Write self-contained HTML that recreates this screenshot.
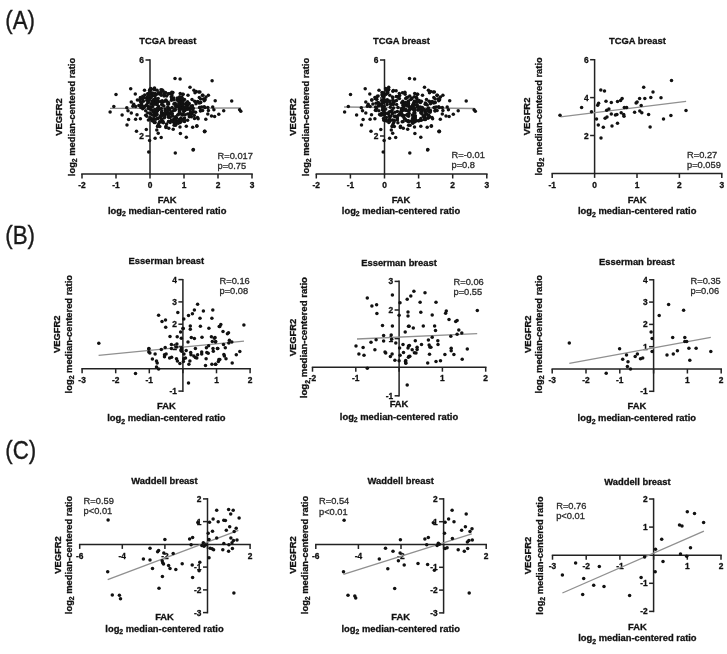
<!DOCTYPE html>
<html><head><meta charset="utf-8"><style>
html,body{margin:0;padding:0;background:#fff;}
svg{display:block;font-family:"Liberation Sans",sans-serif;filter:blur(0.35px);}
</style></head><body>
<svg width="727" height="654" viewBox="0 0 727 654">
<rect width="727" height="654" fill="#fff"/>
<g fill="#111">
<line x1="81.2" y1="174.0" x2="252.8" y2="174.0" stroke="#222" stroke-width="1.5"/>
<line x1="82.0" y1="174.0" x2="82.0" y2="178.5" stroke="#222" stroke-width="1.5"/>
<text x="82.0" y="188.2" font-size="8.4" text-anchor="middle" font-weight="bold" fill="#111" stroke="#111" stroke-width="0.3" >-2</text>
<line x1="116.0" y1="174.0" x2="116.0" y2="178.5" stroke="#222" stroke-width="1.5"/>
<text x="116.0" y="188.2" font-size="8.4" text-anchor="middle" font-weight="bold" fill="#111" stroke="#111" stroke-width="0.3" >-1</text>
<line x1="150.0" y1="174.0" x2="150.0" y2="178.5" stroke="#222" stroke-width="1.5"/>
<text x="150.0" y="188.2" font-size="8.4" text-anchor="middle" font-weight="bold" fill="#111" stroke="#111" stroke-width="0.3" >0</text>
<line x1="184.0" y1="174.0" x2="184.0" y2="178.5" stroke="#222" stroke-width="1.5"/>
<text x="184.0" y="188.2" font-size="8.4" text-anchor="middle" font-weight="bold" fill="#111" stroke="#111" stroke-width="0.3" >1</text>
<line x1="218.0" y1="174.0" x2="218.0" y2="178.5" stroke="#222" stroke-width="1.5"/>
<text x="218.0" y="188.2" font-size="8.4" text-anchor="middle" font-weight="bold" fill="#111" stroke="#111" stroke-width="0.3" >2</text>
<line x1="252.0" y1="174.0" x2="252.0" y2="178.5" stroke="#222" stroke-width="1.5"/>
<text x="252.0" y="188.2" font-size="8.4" text-anchor="middle" font-weight="bold" fill="#111" stroke="#111" stroke-width="0.3" >3</text>
<line x1="150.0" y1="174.8" x2="150.0" y2="59.2" stroke="#222" stroke-width="1.5"/>
<line x1="145.5" y1="136.0" x2="150.0" y2="136.0" stroke="#222" stroke-width="1.5"/>
<text x="144.0" y="139.0" font-size="8.4" text-anchor="end" font-weight="bold" fill="#111" stroke="#111" stroke-width="0.3" >2</text>
<line x1="145.5" y1="98.0" x2="150.0" y2="98.0" stroke="#222" stroke-width="1.5"/>
<text x="144.0" y="101.0" font-size="8.4" text-anchor="end" font-weight="bold" fill="#111" stroke="#111" stroke-width="0.3" >4</text>
<line x1="145.5" y1="60.0" x2="150.0" y2="60.0" stroke="#222" stroke-width="1.5"/>
<text x="144.0" y="63.0" font-size="8.4" text-anchor="end" font-weight="bold" fill="#111" stroke="#111" stroke-width="0.3" >6</text>
<line x1="110.0" y1="108.3" x2="241.0" y2="108.0" stroke="#909090" stroke-width="1.35"/>
<text x="167.8" y="44.0" font-size="9.4" text-anchor="middle" font-weight="bold" fill="#111" stroke="#111" stroke-width="0.3" >TCGA breast</text>
<text x="0" y="0" font-size="9.4" text-anchor="middle" font-weight="bold" fill="#111" stroke="#111" stroke-width="0.3" transform="translate(62.2,117.0) rotate(-90)">VEGFR2</text>
<text x="0" y="0" font-size="9.4" text-anchor="middle" font-weight="bold" fill="#111" stroke="#111" stroke-width="0.3" transform="translate(74.6,117.0) rotate(-90)">log<tspan font-size="6.8" dy="2.1">2</tspan><tspan dy="-2.1"> median-centered ratio</tspan></text>
<text x="167.2" y="202.9" font-size="9.4" text-anchor="middle" font-weight="bold" fill="#111" stroke="#111" stroke-width="0.3" >FAK</text>
<text x="167.2" y="213.6" font-size="9.4" text-anchor="middle" font-weight="bold" fill="#111" stroke="#111" stroke-width="0.3" >log<tspan font-size="6.8" dy="2.1">2</tspan><tspan dy="-2.1"> median-centered ratio</tspan></text>
<text x="217.5" y="159.0" font-size="9.3" text-anchor="start" font-weight="normal" fill="#2b2b2b" stroke="#2b2b2b" stroke-width="0.3" >R=0.017</text>
<text x="217.5" y="169.1" font-size="9.3" text-anchor="start" font-weight="normal" fill="#2b2b2b" stroke="#2b2b2b" stroke-width="0.3" >p=0.75</text>
<circle cx="130.7" cy="88.8" r="1.75"/>
<circle cx="144.5" cy="90.3" r="1.75"/>
<circle cx="116.0" cy="94.6" r="1.75"/>
<circle cx="135.3" cy="93.9" r="1.75"/>
<circle cx="137.4" cy="100.0" r="1.75"/>
<circle cx="140.4" cy="97.6" r="1.75"/>
<circle cx="131.3" cy="101.9" r="1.75"/>
<circle cx="113.8" cy="106.5" r="1.75"/>
<circle cx="110.1" cy="111.9" r="1.75"/>
<circle cx="126.8" cy="107.8" r="1.75"/>
<circle cx="128.0" cy="110.7" r="1.75"/>
<circle cx="131.3" cy="113.1" r="1.75"/>
<circle cx="122.1" cy="115.1" r="1.75"/>
<circle cx="137.0" cy="114.7" r="1.75"/>
<circle cx="128.6" cy="119.6" r="1.75"/>
<circle cx="135.6" cy="119.2" r="1.75"/>
<circle cx="140.4" cy="118.7" r="1.75"/>
<circle cx="127.0" cy="125.1" r="1.75"/>
<circle cx="136.5" cy="131.2" r="1.75"/>
<circle cx="146.3" cy="129.6" r="1.75"/>
<circle cx="158.2" cy="133.3" r="1.75"/>
<circle cx="155.1" cy="138.3" r="1.75"/>
<circle cx="161.2" cy="137.6" r="1.75"/>
<circle cx="149.6" cy="140.4" r="1.75"/>
<circle cx="148.7" cy="152.0" r="1.75"/>
<circle cx="132.9" cy="106.2" r="1.75"/>
<circle cx="135.6" cy="106.5" r="1.75"/>
<circle cx="133.7" cy="104.3" r="1.75"/>
<circle cx="175.0" cy="78.4" r="1.75"/>
<circle cx="180.1" cy="78.9" r="1.75"/>
<circle cx="190.0" cy="87.2" r="1.75"/>
<circle cx="193.9" cy="90.3" r="1.75"/>
<circle cx="198.8" cy="92.1" r="1.75"/>
<circle cx="202.4" cy="95.2" r="1.75"/>
<circle cx="200.6" cy="102.5" r="1.75"/>
<circle cx="204.9" cy="107.4" r="1.75"/>
<circle cx="200.6" cy="110.4" r="1.75"/>
<circle cx="180.4" cy="133.4" r="1.75"/>
<circle cx="186.3" cy="137.3" r="1.75"/>
<circle cx="174.1" cy="125.3" r="1.75"/>
<circle cx="186.3" cy="126.3" r="1.75"/>
<circle cx="192.7" cy="127.3" r="1.75"/>
<circle cx="196.9" cy="125.7" r="1.75"/>
<circle cx="193.3" cy="149.5" r="1.75"/>
<circle cx="175.3" cy="153.0" r="1.75"/>
<circle cx="204.9" cy="131.2" r="1.75"/>
<circle cx="212.1" cy="80.7" r="1.75"/>
<circle cx="196.2" cy="91.5" r="1.75"/>
<circle cx="199.9" cy="92.1" r="1.75"/>
<circle cx="202.9" cy="95.2" r="1.75"/>
<circle cx="208.4" cy="95.2" r="1.75"/>
<circle cx="206.0" cy="97.0" r="1.75"/>
<circle cx="199.3" cy="97.6" r="1.75"/>
<circle cx="204.2" cy="100.7" r="1.75"/>
<circle cx="200.5" cy="102.5" r="1.75"/>
<circle cx="215.2" cy="100.7" r="1.75"/>
<circle cx="231.7" cy="100.9" r="1.75"/>
<circle cx="199.9" cy="107.4" r="1.75"/>
<circle cx="204.2" cy="106.8" r="1.75"/>
<circle cx="207.8" cy="107.4" r="1.75"/>
<circle cx="212.7" cy="107.0" r="1.75"/>
<circle cx="200.5" cy="111.0" r="1.75"/>
<circle cx="208.4" cy="110.4" r="1.75"/>
<circle cx="213.9" cy="109.8" r="1.75"/>
<circle cx="195.6" cy="112.3" r="1.75"/>
<circle cx="207.8" cy="113.9" r="1.75"/>
<circle cx="211.5" cy="116.0" r="1.75"/>
<circle cx="214.6" cy="116.5" r="1.75"/>
<circle cx="218.8" cy="114.3" r="1.75"/>
<circle cx="223.7" cy="110.7" r="1.75"/>
<circle cx="239.6" cy="109.8" r="1.75"/>
<circle cx="240.8" cy="111.3" r="1.75"/>
<circle cx="205.8" cy="119.2" r="1.75"/>
<circle cx="196.8" cy="126.3" r="1.75"/>
<circle cx="204.5" cy="131.2" r="1.75"/>
<circle cx="204.6" cy="131.7" r="1.75"/>
<circle cx="193.1" cy="150.1" r="1.75"/>
<circle cx="150.7" cy="107.0" r="1.75"/>
<circle cx="158.6" cy="109.3" r="1.75"/>
<circle cx="152.0" cy="95.5" r="1.75"/>
<circle cx="186.3" cy="104.5" r="1.75"/>
<circle cx="174.3" cy="119.1" r="1.75"/>
<circle cx="167.7" cy="114.4" r="1.75"/>
<circle cx="181.6" cy="108.8" r="1.75"/>
<circle cx="154.5" cy="88.0" r="1.75"/>
<circle cx="188.0" cy="104.4" r="1.75"/>
<circle cx="179.3" cy="119.5" r="1.75"/>
<circle cx="179.0" cy="121.1" r="1.75"/>
<circle cx="160.1" cy="116.6" r="1.75"/>
<circle cx="163.0" cy="121.6" r="1.75"/>
<circle cx="144.7" cy="94.9" r="1.75"/>
<circle cx="173.8" cy="98.0" r="1.75"/>
<circle cx="166.7" cy="101.2" r="1.75"/>
<circle cx="157.4" cy="108.6" r="1.75"/>
<circle cx="171.3" cy="120.4" r="1.75"/>
<circle cx="177.1" cy="121.4" r="1.75"/>
<circle cx="190.3" cy="108.0" r="1.75"/>
<circle cx="186.0" cy="108.1" r="1.75"/>
<circle cx="153.5" cy="89.2" r="1.75"/>
<circle cx="161.0" cy="92.4" r="1.75"/>
<circle cx="154.1" cy="115.4" r="1.75"/>
<circle cx="179.3" cy="99.1" r="1.75"/>
<circle cx="166.6" cy="123.9" r="1.75"/>
<circle cx="155.0" cy="89.7" r="1.75"/>
<circle cx="148.3" cy="102.0" r="1.75"/>
<circle cx="172.9" cy="92.6" r="1.75"/>
<circle cx="155.2" cy="122.5" r="1.75"/>
<circle cx="163.9" cy="106.1" r="1.75"/>
<circle cx="174.8" cy="109.0" r="1.75"/>
<circle cx="169.8" cy="109.9" r="1.75"/>
<circle cx="192.5" cy="105.7" r="1.75"/>
<circle cx="162.2" cy="113.6" r="1.75"/>
<circle cx="150.7" cy="98.0" r="1.75"/>
<circle cx="161.3" cy="108.4" r="1.75"/>
<circle cx="173.9" cy="104.1" r="1.75"/>
<circle cx="176.9" cy="99.9" r="1.75"/>
<circle cx="178.6" cy="114.3" r="1.75"/>
<circle cx="176.8" cy="122.6" r="1.75"/>
<circle cx="151.5" cy="103.8" r="1.75"/>
<circle cx="171.8" cy="98.7" r="1.75"/>
<circle cx="158.2" cy="98.4" r="1.75"/>
<circle cx="158.5" cy="109.0" r="1.75"/>
<circle cx="154.4" cy="100.8" r="1.75"/>
<circle cx="170.4" cy="114.1" r="1.75"/>
<circle cx="155.0" cy="95.1" r="1.75"/>
<circle cx="147.7" cy="103.0" r="1.75"/>
<circle cx="155.7" cy="99.2" r="1.75"/>
<circle cx="186.1" cy="103.1" r="1.75"/>
<circle cx="156.6" cy="111.0" r="1.75"/>
<circle cx="189.2" cy="103.6" r="1.75"/>
<circle cx="150.0" cy="91.3" r="1.75"/>
<circle cx="168.1" cy="93.9" r="1.75"/>
<circle cx="184.5" cy="118.0" r="1.75"/>
<circle cx="147.5" cy="97.2" r="1.75"/>
<circle cx="184.5" cy="110.7" r="1.75"/>
<circle cx="184.5" cy="99.6" r="1.75"/>
<circle cx="144.3" cy="97.7" r="1.75"/>
<circle cx="157.2" cy="102.3" r="1.75"/>
<circle cx="161.5" cy="102.0" r="1.75"/>
<circle cx="162.4" cy="122.1" r="1.75"/>
<circle cx="180.9" cy="117.9" r="1.75"/>
<circle cx="176.0" cy="106.1" r="1.75"/>
<circle cx="153.8" cy="99.5" r="1.75"/>
<circle cx="150.1" cy="89.3" r="1.75"/>
<circle cx="171.6" cy="97.5" r="1.75"/>
<circle cx="190.3" cy="112.6" r="1.75"/>
<circle cx="190.0" cy="108.3" r="1.75"/>
<circle cx="146.8" cy="98.0" r="1.75"/>
<circle cx="176.0" cy="106.3" r="1.75"/>
<circle cx="161.2" cy="121.7" r="1.75"/>
<circle cx="173.0" cy="99.5" r="1.75"/>
<circle cx="151.6" cy="118.9" r="1.75"/>
<circle cx="164.9" cy="115.9" r="1.75"/>
<circle cx="157.5" cy="94.1" r="1.75"/>
<circle cx="168.4" cy="117.2" r="1.75"/>
<circle cx="146.8" cy="116.3" r="1.75"/>
<circle cx="191.4" cy="116.8" r="1.75"/>
<circle cx="173.9" cy="118.9" r="1.75"/>
<circle cx="152.6" cy="106.4" r="1.75"/>
<circle cx="161.7" cy="104.4" r="1.75"/>
<circle cx="194.5" cy="118.6" r="1.75"/>
<circle cx="141.7" cy="105.5" r="1.75"/>
<circle cx="155.4" cy="98.5" r="1.75"/>
<circle cx="157.5" cy="110.9" r="1.75"/>
<circle cx="171.4" cy="100.2" r="1.75"/>
<circle cx="148.0" cy="99.0" r="1.75"/>
<circle cx="144.0" cy="107.5" r="1.75"/>
<circle cx="179.1" cy="100.9" r="1.75"/>
<circle cx="158.8" cy="109.3" r="1.75"/>
<circle cx="183.1" cy="100.9" r="1.75"/>
<circle cx="184.2" cy="110.0" r="1.75"/>
<circle cx="162.2" cy="100.7" r="1.75"/>
<circle cx="166.1" cy="112.9" r="1.75"/>
<circle cx="161.6" cy="112.6" r="1.75"/>
<circle cx="164.0" cy="95.9" r="1.75"/>
<circle cx="168.4" cy="112.7" r="1.75"/>
<circle cx="140.9" cy="102.6" r="1.75"/>
<circle cx="161.9" cy="119.5" r="1.75"/>
<circle cx="189.9" cy="116.2" r="1.75"/>
<circle cx="152.2" cy="104.1" r="1.75"/>
<circle cx="175.9" cy="119.8" r="1.75"/>
<circle cx="183.7" cy="111.6" r="1.75"/>
<circle cx="180.2" cy="107.8" r="1.75"/>
<circle cx="142.7" cy="108.7" r="1.75"/>
<circle cx="176.6" cy="117.9" r="1.75"/>
<circle cx="193.2" cy="108.3" r="1.75"/>
<circle cx="182.2" cy="105.8" r="1.75"/>
<circle cx="181.1" cy="121.6" r="1.75"/>
<circle cx="140.2" cy="98.9" r="1.75"/>
<circle cx="170.1" cy="117.6" r="1.75"/>
<circle cx="151.0" cy="93.5" r="1.75"/>
<circle cx="151.4" cy="109.7" r="1.75"/>
<circle cx="181.4" cy="101.4" r="1.75"/>
<circle cx="158.4" cy="101.6" r="1.75"/>
<circle cx="157.4" cy="102.4" r="1.75"/>
<circle cx="141.5" cy="105.4" r="1.75"/>
<circle cx="177.6" cy="114.9" r="1.75"/>
<circle cx="176.6" cy="106.0" r="1.75"/>
<circle cx="165.3" cy="110.7" r="1.75"/>
<circle cx="191.0" cy="106.0" r="1.75"/>
<circle cx="162.9" cy="113.5" r="1.75"/>
<circle cx="147.7" cy="96.7" r="1.75"/>
<circle cx="148.4" cy="108.6" r="1.75"/>
<circle cx="155.3" cy="95.4" r="1.75"/>
<circle cx="177.7" cy="122.3" r="1.75"/>
<circle cx="154.2" cy="113.0" r="1.75"/>
<circle cx="161.1" cy="118.6" r="1.75"/>
<circle cx="171.3" cy="96.7" r="1.75"/>
<circle cx="165.1" cy="101.0" r="1.75"/>
<circle cx="146.8" cy="100.2" r="1.75"/>
<circle cx="155.7" cy="115.6" r="1.75"/>
<circle cx="165.1" cy="109.1" r="1.75"/>
<circle cx="164.4" cy="117.8" r="1.75"/>
<circle cx="185.4" cy="107.5" r="1.75"/>
<circle cx="165.2" cy="113.6" r="1.75"/>
<circle cx="187.5" cy="101.7" r="1.75"/>
<circle cx="180.2" cy="122.5" r="1.75"/>
<circle cx="164.4" cy="95.3" r="1.75"/>
<circle cx="150.5" cy="113.5" r="1.75"/>
<circle cx="176.7" cy="122.5" r="1.75"/>
<circle cx="147.9" cy="96.4" r="1.75"/>
<circle cx="147.7" cy="113.0" r="1.75"/>
<circle cx="187.6" cy="120.3" r="1.75"/>
<circle cx="151.7" cy="119.0" r="1.75"/>
<circle cx="155.2" cy="102.5" r="1.75"/>
<circle cx="153.9" cy="100.1" r="1.75"/>
<circle cx="171.1" cy="111.9" r="1.75"/>
<circle cx="162.5" cy="104.9" r="1.75"/>
<circle cx="149.1" cy="108.6" r="1.75"/>
<circle cx="152.9" cy="111.6" r="1.75"/>
<circle cx="182.5" cy="115.0" r="1.75"/>
<circle cx="154.2" cy="111.9" r="1.75"/>
<circle cx="175.5" cy="116.8" r="1.75"/>
<circle cx="152.4" cy="114.9" r="1.75"/>
<circle cx="193.7" cy="111.8" r="1.75"/>
<circle cx="165.9" cy="99.9" r="1.75"/>
<circle cx="179.3" cy="112.0" r="1.75"/>
<circle cx="170.2" cy="93.6" r="1.75"/>
<circle cx="175.0" cy="110.3" r="1.75"/>
<circle cx="156.3" cy="113.6" r="1.75"/>
<circle cx="172.1" cy="107.4" r="1.75"/>
<circle cx="175.1" cy="103.8" r="1.75"/>
<circle cx="155.2" cy="93.4" r="1.75"/>
<circle cx="181.4" cy="107.0" r="1.75"/>
<circle cx="180.5" cy="100.2" r="1.75"/>
<circle cx="152.4" cy="101.1" r="1.75"/>
<circle cx="166.6" cy="96.0" r="1.75"/>
<circle cx="182.3" cy="100.0" r="1.75"/>
<circle cx="156.4" cy="101.8" r="1.75"/>
<circle cx="168.8" cy="115.5" r="1.75"/>
<circle cx="157.6" cy="118.3" r="1.75"/>
<circle cx="143.3" cy="96.9" r="1.75"/>
<circle cx="182.9" cy="113.9" r="1.75"/>
<circle cx="147.6" cy="93.8" r="1.75"/>
<circle cx="161.3" cy="114.5" r="1.75"/>
<circle cx="185.1" cy="114.7" r="1.75"/>
<circle cx="171.8" cy="92.2" r="1.75"/>
<circle cx="160.3" cy="94.0" r="1.75"/>
<circle cx="167.9" cy="107.9" r="1.75"/>
<circle cx="148.6" cy="96.1" r="1.75"/>
<circle cx="184.3" cy="120.0" r="1.75"/>
<circle cx="169.4" cy="108.5" r="1.75"/>
<circle cx="174.2" cy="123.1" r="1.75"/>
<circle cx="177.4" cy="97.9" r="1.75"/>
<circle cx="187.7" cy="104.8" r="1.75"/>
<circle cx="172.3" cy="113.8" r="1.75"/>
<circle cx="175.9" cy="105.1" r="1.75"/>
<circle cx="167.7" cy="103.9" r="1.75"/>
<circle cx="148.1" cy="106.5" r="1.75"/>
<circle cx="138.8" cy="105.4" r="1.75"/>
<circle cx="175.0" cy="103.3" r="1.75"/>
<circle cx="170.2" cy="122.5" r="1.75"/>
<circle cx="183.7" cy="110.0" r="1.75"/>
<circle cx="139.6" cy="100.2" r="1.75"/>
<circle cx="150.5" cy="89.7" r="1.75"/>
<circle cx="168.6" cy="121.4" r="1.75"/>
<circle cx="155.8" cy="119.2" r="1.75"/>
<circle cx="187.6" cy="109.2" r="1.75"/>
<circle cx="191.7" cy="113.4" r="1.75"/>
<circle cx="180.5" cy="99.6" r="1.75"/>
<circle cx="184.5" cy="121.5" r="1.75"/>
<circle cx="187.8" cy="103.1" r="1.75"/>
<circle cx="181.6" cy="104.8" r="1.75"/>
<circle cx="146.2" cy="105.3" r="1.75"/>
<circle cx="178.1" cy="106.8" r="1.75"/>
<circle cx="161.7" cy="111.0" r="1.75"/>
<circle cx="154.7" cy="104.1" r="1.75"/>
<circle cx="181.6" cy="101.7" r="1.75"/>
<circle cx="179.3" cy="100.4" r="1.75"/>
<circle cx="158.6" cy="106.5" r="1.75"/>
<circle cx="172.0" cy="95.1" r="1.75"/>
<circle cx="163.9" cy="94.1" r="1.75"/>
<circle cx="149.0" cy="93.2" r="1.75"/>
<circle cx="160.6" cy="93.1" r="1.75"/>
<circle cx="146.6" cy="105.0" r="1.75"/>
<circle cx="163.2" cy="102.0" r="1.75"/>
<circle cx="160.6" cy="101.6" r="1.75"/>
<circle cx="149.6" cy="90.3" r="1.75"/>
<circle cx="164.8" cy="92.9" r="1.75"/>
<circle cx="173.6" cy="99.7" r="1.75"/>
<circle cx="183.4" cy="104.1" r="1.75"/>
<circle cx="151.4" cy="96.7" r="1.75"/>
<circle cx="185.0" cy="110.2" r="1.75"/>
<circle cx="157.1" cy="90.3" r="1.75"/>
<circle cx="177.1" cy="122.9" r="1.75"/>
<circle cx="184.3" cy="120.9" r="1.75"/>
<circle cx="154.7" cy="109.4" r="1.75"/>
<circle cx="154.0" cy="118.4" r="1.75"/>
<circle cx="143.4" cy="101.3" r="1.75"/>
<circle cx="156.5" cy="112.1" r="1.75"/>
<circle cx="180.5" cy="114.1" r="1.75"/>
<circle cx="186.2" cy="107.4" r="1.75"/>
<circle cx="161.2" cy="95.3" r="1.75"/>
<circle cx="182.9" cy="104.7" r="1.75"/>
<circle cx="152.6" cy="93.1" r="1.75"/>
<circle cx="179.4" cy="109.3" r="1.75"/>
<circle cx="178.8" cy="101.2" r="1.75"/>
<circle cx="165.5" cy="92.5" r="1.75"/>
<circle cx="164.3" cy="115.0" r="1.75"/>
<circle cx="150.7" cy="118.2" r="1.75"/>
<circle cx="174.8" cy="119.5" r="1.75"/>
<circle cx="188.4" cy="103.5" r="1.75"/>
<circle cx="189.9" cy="114.1" r="1.75"/>
<circle cx="156.4" cy="100.6" r="1.75"/>
<circle cx="140.9" cy="101.7" r="1.75"/>
<circle cx="150.9" cy="88.6" r="1.75"/>
<circle cx="145.7" cy="110.8" r="1.75"/>
<circle cx="149.7" cy="107.7" r="1.75"/>
<circle cx="161.5" cy="115.9" r="1.75"/>
<circle cx="172.5" cy="116.1" r="1.75"/>
<circle cx="168.4" cy="93.8" r="1.75"/>
<circle cx="148.4" cy="120.0" r="1.75"/>
<circle cx="141.7" cy="104.1" r="1.75"/>
<circle cx="149.8" cy="117.7" r="1.75"/>
<circle cx="173.2" cy="110.7" r="1.75"/>
<circle cx="181.8" cy="119.2" r="1.75"/>
<circle cx="157.2" cy="109.2" r="1.75"/>
<circle cx="163.1" cy="90.9" r="1.75"/>
<circle cx="186.2" cy="108.9" r="1.75"/>
<circle cx="168.6" cy="104.1" r="1.75"/>
<circle cx="157.2" cy="104.8" r="1.75"/>
<circle cx="140.8" cy="107.4" r="1.75"/>
<circle cx="180.3" cy="102.5" r="1.75"/>
<circle cx="175.1" cy="109.3" r="1.75"/>
<circle cx="149.3" cy="99.8" r="1.75"/>
<circle cx="162.2" cy="89.9" r="1.75"/>
<circle cx="149.5" cy="92.9" r="1.75"/>
<circle cx="191.9" cy="113.8" r="1.75"/>
<circle cx="173.0" cy="121.4" r="1.75"/>
<circle cx="168.4" cy="102.4" r="1.75"/>
<circle cx="182.5" cy="101.9" r="1.75"/>
<circle cx="153.9" cy="121.6" r="1.75"/>
<circle cx="179.5" cy="97.7" r="1.75"/>
<circle cx="167.5" cy="110.6" r="1.75"/>
<circle cx="153.0" cy="102.9" r="1.75"/>
<circle cx="157.1" cy="114.4" r="1.75"/>
<circle cx="142.7" cy="97.9" r="1.75"/>
<circle cx="161.0" cy="89.7" r="1.75"/>
<circle cx="145.7" cy="115.2" r="1.75"/>
<circle cx="158.7" cy="92.8" r="1.75"/>
<circle cx="155.1" cy="104.0" r="1.75"/>
<circle cx="167.8" cy="107.0" r="1.75"/>
<circle cx="158.0" cy="118.5" r="1.75"/>
<circle cx="153.5" cy="104.0" r="1.75"/>
<circle cx="189.3" cy="116.8" r="1.75"/>
<circle cx="154.3" cy="95.8" r="1.75"/>
<circle cx="144.4" cy="106.5" r="1.75"/>
<circle cx="168.8" cy="128.2" r="1.75"/>
<circle cx="180.0" cy="127.1" r="1.75"/>
<circle cx="178.5" cy="121.2" r="1.75"/>
<circle cx="163.4" cy="122.7" r="1.75"/>
<circle cx="166.0" cy="126.3" r="1.75"/>
<circle cx="156.8" cy="130.1" r="1.75"/>
<circle cx="173.8" cy="121.8" r="1.75"/>
<circle cx="174.9" cy="121.5" r="1.75"/>
<circle cx="168.6" cy="121.4" r="1.75"/>
<circle cx="154.3" cy="122.4" r="1.75"/>
<circle cx="165.9" cy="127.5" r="1.75"/>
<circle cx="178.3" cy="123.3" r="1.75"/>
<circle cx="159.6" cy="121.8" r="1.75"/>
<circle cx="152.1" cy="120.7" r="1.75"/>
<circle cx="157.5" cy="126.6" r="1.75"/>
<circle cx="158.8" cy="123.4" r="1.75"/>
<circle cx="175.6" cy="125.3" r="1.75"/>
<circle cx="158.1" cy="125.3" r="1.75"/>
<circle cx="171.7" cy="120.6" r="1.75"/>
<circle cx="181.1" cy="120.3" r="1.75"/>
<circle cx="173.2" cy="129.3" r="1.75"/>
<circle cx="159.8" cy="126.4" r="1.75"/>
<circle cx="188.0" cy="95.2" r="1.75"/>
<circle cx="194.6" cy="101.2" r="1.75"/>
<circle cx="179.8" cy="105.2" r="1.75"/>
<circle cx="179.2" cy="103.1" r="1.75"/>
<circle cx="180.2" cy="93.5" r="1.75"/>
<circle cx="191.2" cy="114.2" r="1.75"/>
<circle cx="181.8" cy="97.3" r="1.75"/>
<circle cx="197.5" cy="117.5" r="1.75"/>
<circle cx="195.9" cy="102.1" r="1.75"/>
<circle cx="204.6" cy="99.1" r="1.75"/>
<circle cx="182.5" cy="94.3" r="1.75"/>
<circle cx="187.6" cy="113.9" r="1.75"/>
<circle cx="183.6" cy="107.3" r="1.75"/>
<circle cx="197.8" cy="101.4" r="1.75"/>
<circle cx="195.0" cy="92.8" r="1.75"/>
<circle cx="179.8" cy="96.8" r="1.75"/>
<circle cx="199.1" cy="103.0" r="1.75"/>
<circle cx="187.7" cy="107.4" r="1.75"/>
<circle cx="192.0" cy="99.4" r="1.75"/>
<circle cx="202.6" cy="110.6" r="1.75"/>
<circle cx="185.6" cy="107.1" r="1.75"/>
<circle cx="194.3" cy="115.5" r="1.75"/>
<circle cx="200.6" cy="99.1" r="1.75"/>
<circle cx="191.0" cy="112.2" r="1.75"/>
<circle cx="182.7" cy="104.7" r="1.75"/>
<circle cx="179.2" cy="109.7" r="1.75"/>
<circle cx="201.7" cy="107.0" r="1.75"/>
<circle cx="205.1" cy="99.8" r="1.75"/>
<circle cx="199.6" cy="107.6" r="1.75"/>
<circle cx="196.0" cy="103.8" r="1.75"/>
<circle cx="192.7" cy="109.6" r="1.75"/>
<circle cx="179.9" cy="110.6" r="1.75"/>
<circle cx="198.1" cy="118.8" r="1.75"/>
<circle cx="203.5" cy="99.0" r="1.75"/>
<circle cx="190.0" cy="109.7" r="1.75"/>
<circle cx="178.7" cy="103.9" r="1.75"/>
<circle cx="183.2" cy="94.3" r="1.75"/>
<circle cx="179.8" cy="112.5" r="1.75"/>
<circle cx="182.0" cy="97.9" r="1.75"/>
<circle cx="190.1" cy="115.4" r="1.75"/>
<line x1="315.6" y1="174.0" x2="487.6" y2="174.0" stroke="#222" stroke-width="1.5"/>
<line x1="316.3" y1="174.0" x2="316.3" y2="178.5" stroke="#222" stroke-width="1.5"/>
<text x="316.3" y="188.2" font-size="8.4" text-anchor="middle" font-weight="bold" fill="#111" stroke="#111" stroke-width="0.3" >-2</text>
<line x1="350.4" y1="174.0" x2="350.4" y2="178.5" stroke="#222" stroke-width="1.5"/>
<text x="350.4" y="188.2" font-size="8.4" text-anchor="middle" font-weight="bold" fill="#111" stroke="#111" stroke-width="0.3" >-1</text>
<line x1="384.5" y1="174.0" x2="384.5" y2="178.5" stroke="#222" stroke-width="1.5"/>
<text x="384.5" y="188.2" font-size="8.4" text-anchor="middle" font-weight="bold" fill="#111" stroke="#111" stroke-width="0.3" >0</text>
<line x1="418.6" y1="174.0" x2="418.6" y2="178.5" stroke="#222" stroke-width="1.5"/>
<text x="418.6" y="188.2" font-size="8.4" text-anchor="middle" font-weight="bold" fill="#111" stroke="#111" stroke-width="0.3" >1</text>
<line x1="452.7" y1="174.0" x2="452.7" y2="178.5" stroke="#222" stroke-width="1.5"/>
<text x="452.7" y="188.2" font-size="8.4" text-anchor="middle" font-weight="bold" fill="#111" stroke="#111" stroke-width="0.3" >2</text>
<line x1="486.8" y1="174.0" x2="486.8" y2="178.5" stroke="#222" stroke-width="1.5"/>
<text x="486.8" y="188.2" font-size="8.4" text-anchor="middle" font-weight="bold" fill="#111" stroke="#111" stroke-width="0.3" >3</text>
<line x1="384.5" y1="174.8" x2="384.5" y2="59.2" stroke="#222" stroke-width="1.5"/>
<line x1="380.0" y1="136.0" x2="384.5" y2="136.0" stroke="#222" stroke-width="1.5"/>
<text x="378.5" y="139.0" font-size="8.4" text-anchor="end" font-weight="bold" fill="#111" stroke="#111" stroke-width="0.3" >2</text>
<line x1="380.0" y1="98.0" x2="384.5" y2="98.0" stroke="#222" stroke-width="1.5"/>
<text x="378.5" y="101.0" font-size="8.4" text-anchor="end" font-weight="bold" fill="#111" stroke="#111" stroke-width="0.3" >4</text>
<line x1="380.0" y1="60.0" x2="384.5" y2="60.0" stroke="#222" stroke-width="1.5"/>
<text x="378.5" y="63.0" font-size="8.4" text-anchor="end" font-weight="bold" fill="#111" stroke="#111" stroke-width="0.3" >6</text>
<line x1="344.0" y1="107.0" x2="474.5" y2="108.5" stroke="#909090" stroke-width="1.35"/>
<text x="401.4" y="44.2" font-size="9.4" text-anchor="middle" font-weight="bold" fill="#111" stroke="#111" stroke-width="0.3" >TCGA breast</text>
<text x="0" y="0" font-size="9.4" text-anchor="middle" font-weight="bold" fill="#111" stroke="#111" stroke-width="0.3" transform="translate(296.2,117.0) rotate(-90)">VEGFR2</text>
<text x="0" y="0" font-size="9.4" text-anchor="middle" font-weight="bold" fill="#111" stroke="#111" stroke-width="0.3" transform="translate(308.7,117.0) rotate(-90)">log<tspan font-size="6.8" dy="2.1">2</tspan><tspan dy="-2.1"> median-centered ratio</tspan></text>
<text x="401.0" y="203.1" font-size="9.4" text-anchor="middle" font-weight="bold" fill="#111" stroke="#111" stroke-width="0.3" >FAK</text>
<text x="401.0" y="213.6" font-size="9.4" text-anchor="middle" font-weight="bold" fill="#111" stroke="#111" stroke-width="0.3" >log<tspan font-size="6.8" dy="2.1">2</tspan><tspan dy="-2.1"> median-centered ratio</tspan></text>
<text x="451.5" y="157.9" font-size="9.3" text-anchor="start" font-weight="normal" fill="#2b2b2b" stroke="#2b2b2b" stroke-width="0.3" >R=-0.01</text>
<text x="451.5" y="167.9" font-size="9.3" text-anchor="start" font-weight="normal" fill="#2b2b2b" stroke="#2b2b2b" stroke-width="0.3" >p=0.8</text>
<circle cx="365.2" cy="88.8" r="1.75"/>
<circle cx="379.0" cy="90.3" r="1.75"/>
<circle cx="350.5" cy="94.6" r="1.75"/>
<circle cx="369.8" cy="93.9" r="1.75"/>
<circle cx="371.9" cy="100.0" r="1.75"/>
<circle cx="374.9" cy="97.6" r="1.75"/>
<circle cx="365.8" cy="101.9" r="1.75"/>
<circle cx="348.3" cy="106.5" r="1.75"/>
<circle cx="344.6" cy="111.9" r="1.75"/>
<circle cx="361.3" cy="107.8" r="1.75"/>
<circle cx="362.5" cy="110.7" r="1.75"/>
<circle cx="365.8" cy="113.1" r="1.75"/>
<circle cx="356.6" cy="115.1" r="1.75"/>
<circle cx="371.5" cy="114.7" r="1.75"/>
<circle cx="363.1" cy="119.6" r="1.75"/>
<circle cx="370.1" cy="119.2" r="1.75"/>
<circle cx="374.9" cy="118.7" r="1.75"/>
<circle cx="361.5" cy="125.1" r="1.75"/>
<circle cx="371.0" cy="131.2" r="1.75"/>
<circle cx="380.8" cy="129.6" r="1.75"/>
<circle cx="392.7" cy="133.3" r="1.75"/>
<circle cx="389.6" cy="138.3" r="1.75"/>
<circle cx="395.7" cy="137.6" r="1.75"/>
<circle cx="384.1" cy="140.4" r="1.75"/>
<circle cx="383.2" cy="152.0" r="1.75"/>
<circle cx="367.4" cy="106.2" r="1.75"/>
<circle cx="370.1" cy="106.5" r="1.75"/>
<circle cx="368.2" cy="104.3" r="1.75"/>
<circle cx="409.5" cy="78.4" r="1.75"/>
<circle cx="414.6" cy="78.9" r="1.75"/>
<circle cx="424.5" cy="87.2" r="1.75"/>
<circle cx="428.4" cy="90.3" r="1.75"/>
<circle cx="433.3" cy="92.1" r="1.75"/>
<circle cx="436.9" cy="95.2" r="1.75"/>
<circle cx="435.1" cy="102.5" r="1.75"/>
<circle cx="439.4" cy="107.4" r="1.75"/>
<circle cx="435.1" cy="110.4" r="1.75"/>
<circle cx="414.9" cy="133.4" r="1.75"/>
<circle cx="420.8" cy="137.3" r="1.75"/>
<circle cx="408.6" cy="125.3" r="1.75"/>
<circle cx="420.8" cy="126.3" r="1.75"/>
<circle cx="427.2" cy="127.3" r="1.75"/>
<circle cx="431.4" cy="125.7" r="1.75"/>
<circle cx="427.8" cy="149.5" r="1.75"/>
<circle cx="409.8" cy="153.0" r="1.75"/>
<circle cx="439.4" cy="131.2" r="1.75"/>
<circle cx="430.7" cy="91.5" r="1.75"/>
<circle cx="434.4" cy="92.1" r="1.75"/>
<circle cx="437.4" cy="95.2" r="1.75"/>
<circle cx="442.9" cy="95.2" r="1.75"/>
<circle cx="440.5" cy="97.0" r="1.75"/>
<circle cx="433.8" cy="97.6" r="1.75"/>
<circle cx="438.7" cy="100.7" r="1.75"/>
<circle cx="435.0" cy="102.5" r="1.75"/>
<circle cx="449.7" cy="100.7" r="1.75"/>
<circle cx="466.2" cy="100.9" r="1.75"/>
<circle cx="434.4" cy="107.4" r="1.75"/>
<circle cx="438.7" cy="106.8" r="1.75"/>
<circle cx="442.3" cy="107.4" r="1.75"/>
<circle cx="447.2" cy="107.0" r="1.75"/>
<circle cx="435.0" cy="111.0" r="1.75"/>
<circle cx="442.9" cy="110.4" r="1.75"/>
<circle cx="448.4" cy="109.8" r="1.75"/>
<circle cx="430.1" cy="112.3" r="1.75"/>
<circle cx="442.3" cy="113.9" r="1.75"/>
<circle cx="446.0" cy="116.0" r="1.75"/>
<circle cx="449.1" cy="116.5" r="1.75"/>
<circle cx="453.3" cy="114.3" r="1.75"/>
<circle cx="458.2" cy="110.7" r="1.75"/>
<circle cx="474.1" cy="109.8" r="1.75"/>
<circle cx="475.3" cy="111.3" r="1.75"/>
<circle cx="440.3" cy="119.2" r="1.75"/>
<circle cx="431.3" cy="126.3" r="1.75"/>
<circle cx="439.0" cy="131.2" r="1.75"/>
<circle cx="439.1" cy="131.7" r="1.75"/>
<circle cx="427.6" cy="150.1" r="1.75"/>
<circle cx="398.0" cy="107.6" r="1.75"/>
<circle cx="426.0" cy="104.1" r="1.75"/>
<circle cx="401.3" cy="108.7" r="1.75"/>
<circle cx="382.1" cy="105.8" r="1.75"/>
<circle cx="408.5" cy="116.3" r="1.75"/>
<circle cx="376.7" cy="98.1" r="1.75"/>
<circle cx="409.9" cy="109.7" r="1.75"/>
<circle cx="382.4" cy="95.8" r="1.75"/>
<circle cx="372.9" cy="104.1" r="1.75"/>
<circle cx="397.3" cy="118.1" r="1.75"/>
<circle cx="401.9" cy="110.6" r="1.75"/>
<circle cx="400.8" cy="111.4" r="1.75"/>
<circle cx="398.3" cy="97.1" r="1.75"/>
<circle cx="421.0" cy="113.1" r="1.75"/>
<circle cx="389.8" cy="95.3" r="1.75"/>
<circle cx="388.3" cy="89.4" r="1.75"/>
<circle cx="416.6" cy="101.7" r="1.75"/>
<circle cx="421.4" cy="101.2" r="1.75"/>
<circle cx="428.0" cy="118.3" r="1.75"/>
<circle cx="425.2" cy="104.3" r="1.75"/>
<circle cx="375.4" cy="110.2" r="1.75"/>
<circle cx="376.3" cy="99.2" r="1.75"/>
<circle cx="428.4" cy="115.0" r="1.75"/>
<circle cx="378.1" cy="96.0" r="1.75"/>
<circle cx="404.3" cy="103.4" r="1.75"/>
<circle cx="382.4" cy="114.0" r="1.75"/>
<circle cx="378.9" cy="110.7" r="1.75"/>
<circle cx="378.0" cy="102.5" r="1.75"/>
<circle cx="383.7" cy="96.8" r="1.75"/>
<circle cx="428.8" cy="116.7" r="1.75"/>
<circle cx="389.2" cy="119.7" r="1.75"/>
<circle cx="383.6" cy="101.5" r="1.75"/>
<circle cx="421.8" cy="110.7" r="1.75"/>
<circle cx="383.8" cy="96.4" r="1.75"/>
<circle cx="417.0" cy="99.0" r="1.75"/>
<circle cx="388.7" cy="89.5" r="1.75"/>
<circle cx="376.5" cy="108.5" r="1.75"/>
<circle cx="385.5" cy="109.2" r="1.75"/>
<circle cx="393.2" cy="103.7" r="1.75"/>
<circle cx="405.2" cy="119.0" r="1.75"/>
<circle cx="382.0" cy="92.5" r="1.75"/>
<circle cx="425.1" cy="117.2" r="1.75"/>
<circle cx="385.9" cy="93.9" r="1.75"/>
<circle cx="415.0" cy="121.8" r="1.75"/>
<circle cx="423.5" cy="109.3" r="1.75"/>
<circle cx="396.1" cy="90.7" r="1.75"/>
<circle cx="385.3" cy="113.0" r="1.75"/>
<circle cx="386.4" cy="117.4" r="1.75"/>
<circle cx="406.5" cy="97.7" r="1.75"/>
<circle cx="381.5" cy="113.6" r="1.75"/>
<circle cx="404.3" cy="118.5" r="1.75"/>
<circle cx="407.6" cy="97.2" r="1.75"/>
<circle cx="381.6" cy="100.5" r="1.75"/>
<circle cx="392.6" cy="119.9" r="1.75"/>
<circle cx="429.3" cy="111.2" r="1.75"/>
<circle cx="412.2" cy="108.5" r="1.75"/>
<circle cx="412.7" cy="122.6" r="1.75"/>
<circle cx="399.7" cy="114.0" r="1.75"/>
<circle cx="375.6" cy="107.1" r="1.75"/>
<circle cx="414.9" cy="120.3" r="1.75"/>
<circle cx="414.9" cy="113.0" r="1.75"/>
<circle cx="418.2" cy="120.8" r="1.75"/>
<circle cx="392.0" cy="112.3" r="1.75"/>
<circle cx="424.6" cy="119.2" r="1.75"/>
<circle cx="395.9" cy="116.2" r="1.75"/>
<circle cx="422.4" cy="108.1" r="1.75"/>
<circle cx="408.2" cy="101.0" r="1.75"/>
<circle cx="405.7" cy="109.4" r="1.75"/>
<circle cx="414.4" cy="101.2" r="1.75"/>
<circle cx="414.8" cy="108.4" r="1.75"/>
<circle cx="397.3" cy="118.0" r="1.75"/>
<circle cx="399.7" cy="95.4" r="1.75"/>
<circle cx="412.6" cy="105.3" r="1.75"/>
<circle cx="407.6" cy="121.0" r="1.75"/>
<circle cx="389.0" cy="112.0" r="1.75"/>
<circle cx="383.1" cy="93.1" r="1.75"/>
<circle cx="424.9" cy="111.4" r="1.75"/>
<circle cx="397.4" cy="120.0" r="1.75"/>
<circle cx="390.5" cy="111.6" r="1.75"/>
<circle cx="382.9" cy="102.8" r="1.75"/>
<circle cx="419.0" cy="120.8" r="1.75"/>
<circle cx="405.7" cy="98.6" r="1.75"/>
<circle cx="379.2" cy="105.3" r="1.75"/>
<circle cx="420.8" cy="118.4" r="1.75"/>
<circle cx="413.3" cy="122.1" r="1.75"/>
<circle cx="387.5" cy="93.1" r="1.75"/>
<circle cx="397.9" cy="97.0" r="1.75"/>
<circle cx="383.8" cy="102.2" r="1.75"/>
<circle cx="408.3" cy="105.2" r="1.75"/>
<circle cx="389.8" cy="118.0" r="1.75"/>
<circle cx="413.2" cy="108.0" r="1.75"/>
<circle cx="389.5" cy="116.2" r="1.75"/>
<circle cx="408.5" cy="103.4" r="1.75"/>
<circle cx="408.5" cy="111.2" r="1.75"/>
<circle cx="399.3" cy="93.4" r="1.75"/>
<circle cx="387.3" cy="99.7" r="1.75"/>
<circle cx="412.5" cy="106.2" r="1.75"/>
<circle cx="407.6" cy="114.9" r="1.75"/>
<circle cx="394.5" cy="116.3" r="1.75"/>
<circle cx="426.5" cy="113.7" r="1.75"/>
<circle cx="378.8" cy="103.7" r="1.75"/>
<circle cx="408.3" cy="120.7" r="1.75"/>
<circle cx="393.5" cy="108.0" r="1.75"/>
<circle cx="423.3" cy="116.4" r="1.75"/>
<circle cx="414.0" cy="117.2" r="1.75"/>
<circle cx="409.2" cy="113.5" r="1.75"/>
<circle cx="383.8" cy="120.3" r="1.75"/>
<circle cx="403.0" cy="116.2" r="1.75"/>
<circle cx="390.1" cy="120.7" r="1.75"/>
<circle cx="376.0" cy="103.2" r="1.75"/>
<circle cx="403.8" cy="115.4" r="1.75"/>
<circle cx="391.0" cy="116.1" r="1.75"/>
<circle cx="401.8" cy="113.7" r="1.75"/>
<circle cx="421.0" cy="112.4" r="1.75"/>
<circle cx="427.3" cy="105.1" r="1.75"/>
<circle cx="384.3" cy="106.4" r="1.75"/>
<circle cx="388.3" cy="113.9" r="1.75"/>
<circle cx="409.0" cy="106.2" r="1.75"/>
<circle cx="421.2" cy="107.6" r="1.75"/>
<circle cx="389.6" cy="101.0" r="1.75"/>
<circle cx="421.3" cy="120.3" r="1.75"/>
<circle cx="383.5" cy="118.4" r="1.75"/>
<circle cx="405.1" cy="94.3" r="1.75"/>
<circle cx="402.9" cy="105.5" r="1.75"/>
<circle cx="394.9" cy="116.6" r="1.75"/>
<circle cx="404.5" cy="105.1" r="1.75"/>
<circle cx="403.1" cy="102.2" r="1.75"/>
<circle cx="387.1" cy="104.4" r="1.75"/>
<circle cx="378.6" cy="102.9" r="1.75"/>
<circle cx="419.6" cy="120.3" r="1.75"/>
<circle cx="399.4" cy="98.6" r="1.75"/>
<circle cx="382.5" cy="109.8" r="1.75"/>
<circle cx="382.6" cy="95.3" r="1.75"/>
<circle cx="411.9" cy="98.8" r="1.75"/>
<circle cx="392.2" cy="109.9" r="1.75"/>
<circle cx="378.4" cy="105.8" r="1.75"/>
<circle cx="386.0" cy="94.2" r="1.75"/>
<circle cx="402.6" cy="103.0" r="1.75"/>
<circle cx="393.4" cy="102.2" r="1.75"/>
<circle cx="402.5" cy="92.7" r="1.75"/>
<circle cx="383.2" cy="110.3" r="1.75"/>
<circle cx="409.0" cy="106.5" r="1.75"/>
<circle cx="421.7" cy="109.6" r="1.75"/>
<circle cx="415.1" cy="117.0" r="1.75"/>
<circle cx="389.8" cy="121.1" r="1.75"/>
<circle cx="385.3" cy="113.8" r="1.75"/>
<circle cx="386.5" cy="90.4" r="1.75"/>
<circle cx="420.5" cy="102.5" r="1.75"/>
<circle cx="395.0" cy="112.3" r="1.75"/>
<circle cx="411.6" cy="120.7" r="1.75"/>
<circle cx="401.1" cy="115.0" r="1.75"/>
<circle cx="401.0" cy="112.3" r="1.75"/>
<circle cx="403.9" cy="106.0" r="1.75"/>
<circle cx="404.9" cy="92.3" r="1.75"/>
<circle cx="382.1" cy="94.4" r="1.75"/>
<circle cx="398.5" cy="115.2" r="1.75"/>
<circle cx="390.5" cy="104.2" r="1.75"/>
<circle cx="401.7" cy="102.8" r="1.75"/>
<circle cx="412.7" cy="118.2" r="1.75"/>
<circle cx="381.9" cy="103.7" r="1.75"/>
<circle cx="415.0" cy="101.9" r="1.75"/>
<circle cx="382.7" cy="92.9" r="1.75"/>
<circle cx="424.2" cy="116.6" r="1.75"/>
<circle cx="413.0" cy="118.8" r="1.75"/>
<circle cx="408.5" cy="101.8" r="1.75"/>
<circle cx="406.7" cy="105.6" r="1.75"/>
<circle cx="429.5" cy="116.7" r="1.75"/>
<circle cx="386.4" cy="120.7" r="1.75"/>
<circle cx="415.3" cy="115.7" r="1.75"/>
<circle cx="419.5" cy="101.9" r="1.75"/>
<circle cx="424.4" cy="119.5" r="1.75"/>
<circle cx="412.4" cy="115.3" r="1.75"/>
<circle cx="416.6" cy="101.9" r="1.75"/>
<circle cx="391.4" cy="104.2" r="1.75"/>
<circle cx="371.7" cy="100.0" r="1.75"/>
<circle cx="409.0" cy="110.0" r="1.75"/>
<circle cx="410.7" cy="99.4" r="1.75"/>
<circle cx="410.3" cy="108.0" r="1.75"/>
<circle cx="402.8" cy="101.3" r="1.75"/>
<circle cx="430.5" cy="110.7" r="1.75"/>
<circle cx="412.8" cy="115.1" r="1.75"/>
<circle cx="407.7" cy="114.3" r="1.75"/>
<circle cx="386.3" cy="101.7" r="1.75"/>
<circle cx="393.4" cy="90.5" r="1.75"/>
<circle cx="386.0" cy="120.5" r="1.75"/>
<circle cx="403.8" cy="105.7" r="1.75"/>
<circle cx="428.5" cy="107.9" r="1.75"/>
<circle cx="430.2" cy="110.5" r="1.75"/>
<circle cx="406.6" cy="115.0" r="1.75"/>
<circle cx="380.6" cy="104.3" r="1.75"/>
<circle cx="381.1" cy="105.2" r="1.75"/>
<circle cx="402.4" cy="109.0" r="1.75"/>
<circle cx="392.8" cy="97.4" r="1.75"/>
<circle cx="410.0" cy="107.7" r="1.75"/>
<circle cx="387.9" cy="113.5" r="1.75"/>
<circle cx="388.7" cy="87.3" r="1.75"/>
<circle cx="385.7" cy="88.4" r="1.75"/>
<circle cx="380.4" cy="114.9" r="1.75"/>
<circle cx="394.3" cy="120.2" r="1.75"/>
<circle cx="396.6" cy="104.6" r="1.75"/>
<circle cx="402.2" cy="121.7" r="1.75"/>
<circle cx="414.0" cy="104.2" r="1.75"/>
<circle cx="429.2" cy="117.2" r="1.75"/>
<circle cx="408.2" cy="103.8" r="1.75"/>
<circle cx="397.4" cy="111.6" r="1.75"/>
<circle cx="398.2" cy="96.6" r="1.75"/>
<circle cx="405.7" cy="102.4" r="1.75"/>
<circle cx="417.3" cy="106.5" r="1.75"/>
<circle cx="417.7" cy="110.0" r="1.75"/>
<circle cx="392.4" cy="96.9" r="1.75"/>
<circle cx="411.8" cy="107.8" r="1.75"/>
<circle cx="406.2" cy="110.4" r="1.75"/>
<circle cx="425.5" cy="119.5" r="1.75"/>
<circle cx="387.2" cy="102.6" r="1.75"/>
<circle cx="403.8" cy="110.3" r="1.75"/>
<circle cx="393.3" cy="104.6" r="1.75"/>
<circle cx="383.6" cy="99.6" r="1.75"/>
<circle cx="415.3" cy="118.0" r="1.75"/>
<circle cx="419.2" cy="110.0" r="1.75"/>
<circle cx="396.3" cy="96.4" r="1.75"/>
<circle cx="419.2" cy="100.5" r="1.75"/>
<circle cx="390.4" cy="107.2" r="1.75"/>
<circle cx="415.4" cy="121.1" r="1.75"/>
<circle cx="396.5" cy="100.5" r="1.75"/>
<circle cx="404.6" cy="104.8" r="1.75"/>
<circle cx="411.8" cy="97.9" r="1.75"/>
<circle cx="383.8" cy="111.4" r="1.75"/>
<circle cx="376.0" cy="98.1" r="1.75"/>
<circle cx="414.2" cy="112.6" r="1.75"/>
<circle cx="387.9" cy="92.1" r="1.75"/>
<circle cx="392.4" cy="113.8" r="1.75"/>
<circle cx="392.9" cy="91.2" r="1.75"/>
<circle cx="413.2" cy="108.0" r="1.75"/>
<circle cx="425.4" cy="103.1" r="1.75"/>
<circle cx="390.0" cy="101.7" r="1.75"/>
<circle cx="385.8" cy="100.3" r="1.75"/>
<circle cx="392.8" cy="100.3" r="1.75"/>
<circle cx="394.6" cy="101.2" r="1.75"/>
<circle cx="382.7" cy="107.8" r="1.75"/>
<circle cx="418.4" cy="106.9" r="1.75"/>
<circle cx="420.8" cy="107.7" r="1.75"/>
<circle cx="381.6" cy="115.0" r="1.75"/>
<circle cx="403.4" cy="107.9" r="1.75"/>
<circle cx="428.5" cy="111.0" r="1.75"/>
<circle cx="403.6" cy="116.1" r="1.75"/>
<circle cx="414.9" cy="120.2" r="1.75"/>
<circle cx="376.1" cy="110.4" r="1.75"/>
<circle cx="379.6" cy="114.5" r="1.75"/>
<circle cx="409.7" cy="95.9" r="1.75"/>
<circle cx="384.2" cy="115.3" r="1.75"/>
<circle cx="403.3" cy="128.2" r="1.75"/>
<circle cx="414.5" cy="127.1" r="1.75"/>
<circle cx="413.0" cy="121.2" r="1.75"/>
<circle cx="397.9" cy="122.7" r="1.75"/>
<circle cx="400.5" cy="126.3" r="1.75"/>
<circle cx="391.3" cy="130.1" r="1.75"/>
<circle cx="408.3" cy="121.8" r="1.75"/>
<circle cx="409.4" cy="121.5" r="1.75"/>
<circle cx="403.1" cy="121.4" r="1.75"/>
<circle cx="388.8" cy="122.4" r="1.75"/>
<circle cx="400.4" cy="127.5" r="1.75"/>
<circle cx="412.8" cy="123.3" r="1.75"/>
<circle cx="394.1" cy="121.8" r="1.75"/>
<circle cx="386.6" cy="120.7" r="1.75"/>
<circle cx="392.0" cy="126.6" r="1.75"/>
<circle cx="393.3" cy="123.4" r="1.75"/>
<circle cx="410.1" cy="125.3" r="1.75"/>
<circle cx="392.6" cy="125.3" r="1.75"/>
<circle cx="406.2" cy="120.6" r="1.75"/>
<circle cx="415.6" cy="120.3" r="1.75"/>
<circle cx="407.7" cy="129.3" r="1.75"/>
<circle cx="394.3" cy="126.4" r="1.75"/>
<circle cx="422.5" cy="95.2" r="1.75"/>
<circle cx="429.1" cy="101.2" r="1.75"/>
<circle cx="414.3" cy="105.2" r="1.75"/>
<circle cx="413.7" cy="103.1" r="1.75"/>
<circle cx="414.7" cy="93.5" r="1.75"/>
<circle cx="425.7" cy="114.2" r="1.75"/>
<circle cx="416.3" cy="97.3" r="1.75"/>
<circle cx="432.0" cy="117.5" r="1.75"/>
<circle cx="430.4" cy="102.1" r="1.75"/>
<circle cx="439.1" cy="99.1" r="1.75"/>
<circle cx="417.0" cy="94.3" r="1.75"/>
<circle cx="422.1" cy="113.9" r="1.75"/>
<circle cx="418.1" cy="107.3" r="1.75"/>
<circle cx="432.3" cy="101.4" r="1.75"/>
<circle cx="429.5" cy="92.8" r="1.75"/>
<circle cx="414.3" cy="96.8" r="1.75"/>
<circle cx="433.6" cy="103.0" r="1.75"/>
<circle cx="422.2" cy="107.4" r="1.75"/>
<circle cx="426.5" cy="99.4" r="1.75"/>
<circle cx="437.1" cy="110.6" r="1.75"/>
<circle cx="420.1" cy="107.1" r="1.75"/>
<circle cx="428.8" cy="115.5" r="1.75"/>
<circle cx="435.1" cy="99.1" r="1.75"/>
<circle cx="425.5" cy="112.2" r="1.75"/>
<circle cx="417.2" cy="104.7" r="1.75"/>
<circle cx="413.7" cy="109.7" r="1.75"/>
<circle cx="436.2" cy="107.0" r="1.75"/>
<circle cx="439.6" cy="99.8" r="1.75"/>
<circle cx="434.1" cy="107.6" r="1.75"/>
<circle cx="430.5" cy="103.8" r="1.75"/>
<circle cx="427.2" cy="109.6" r="1.75"/>
<circle cx="414.4" cy="110.6" r="1.75"/>
<circle cx="432.6" cy="118.8" r="1.75"/>
<circle cx="438.0" cy="99.0" r="1.75"/>
<circle cx="424.5" cy="109.7" r="1.75"/>
<circle cx="413.2" cy="103.9" r="1.75"/>
<circle cx="417.7" cy="94.3" r="1.75"/>
<circle cx="414.3" cy="112.5" r="1.75"/>
<circle cx="416.5" cy="97.9" r="1.75"/>
<circle cx="424.6" cy="115.4" r="1.75"/>
<line x1="551.5" y1="173.4" x2="722.5" y2="173.4" stroke="#222" stroke-width="1.5"/>
<line x1="552.2" y1="173.4" x2="552.2" y2="177.9" stroke="#222" stroke-width="1.5"/>
<text x="552.2" y="187.6" font-size="8.4" text-anchor="middle" font-weight="bold" fill="#111" stroke="#111" stroke-width="0.3" >-1</text>
<line x1="594.6" y1="173.4" x2="594.6" y2="177.9" stroke="#222" stroke-width="1.5"/>
<text x="594.6" y="187.6" font-size="8.4" text-anchor="middle" font-weight="bold" fill="#111" stroke="#111" stroke-width="0.3" >0</text>
<line x1="637.0" y1="173.4" x2="637.0" y2="177.9" stroke="#222" stroke-width="1.5"/>
<text x="637.0" y="187.6" font-size="8.4" text-anchor="middle" font-weight="bold" fill="#111" stroke="#111" stroke-width="0.3" >1</text>
<line x1="679.4" y1="173.4" x2="679.4" y2="177.9" stroke="#222" stroke-width="1.5"/>
<text x="679.4" y="187.6" font-size="8.4" text-anchor="middle" font-weight="bold" fill="#111" stroke="#111" stroke-width="0.3" >2</text>
<line x1="721.8" y1="173.4" x2="721.8" y2="177.9" stroke="#222" stroke-width="1.5"/>
<text x="721.8" y="187.6" font-size="8.4" text-anchor="middle" font-weight="bold" fill="#111" stroke="#111" stroke-width="0.3" >3</text>
<line x1="594.6" y1="174.2" x2="594.6" y2="59.0" stroke="#222" stroke-width="1.5"/>
<line x1="590.1" y1="135.5" x2="594.6" y2="135.5" stroke="#222" stroke-width="1.5"/>
<text x="588.6" y="138.5" font-size="8.4" text-anchor="end" font-weight="bold" fill="#111" stroke="#111" stroke-width="0.3" >2</text>
<line x1="590.1" y1="97.6" x2="594.6" y2="97.6" stroke="#222" stroke-width="1.5"/>
<text x="588.6" y="100.6" font-size="8.4" text-anchor="end" font-weight="bold" fill="#111" stroke="#111" stroke-width="0.3" >4</text>
<line x1="590.1" y1="59.7" x2="594.6" y2="59.7" stroke="#222" stroke-width="1.5"/>
<text x="588.6" y="62.7" font-size="8.4" text-anchor="end" font-weight="bold" fill="#111" stroke="#111" stroke-width="0.3" >6</text>
<line x1="560.5" y1="116.9" x2="686.1" y2="101.4" stroke="#909090" stroke-width="1.35"/>
<text x="637.4" y="44.2" font-size="9.4" text-anchor="middle" font-weight="bold" fill="#111" stroke="#111" stroke-width="0.3" >TCGA breast</text>
<text x="0" y="0" font-size="9.4" text-anchor="middle" font-weight="bold" fill="#111" stroke="#111" stroke-width="0.3" transform="translate(530.3,116.4) rotate(-90)">VEGFR2</text>
<text x="0" y="0" font-size="9.4" text-anchor="middle" font-weight="bold" fill="#111" stroke="#111" stroke-width="0.3" transform="translate(542.1,116.4) rotate(-90)">log<tspan font-size="6.8" dy="2.1">2</tspan><tspan dy="-2.1"> median-centered ratio</tspan></text>
<text x="637.2" y="202.6" font-size="9.4" text-anchor="middle" font-weight="bold" fill="#111" stroke="#111" stroke-width="0.3" >FAK</text>
<text x="637.2" y="214.4" font-size="9.4" text-anchor="middle" font-weight="bold" fill="#111" stroke="#111" stroke-width="0.3" >log<tspan font-size="6.8" dy="2.1">2</tspan><tspan dy="-2.1"> median-centered ratio</tspan></text>
<text x="687.0" y="157.7" font-size="9.3" text-anchor="start" font-weight="normal" fill="#2b2b2b" stroke="#2b2b2b" stroke-width="0.3" >R=0.27</text>
<text x="687.0" y="167.7" font-size="9.3" text-anchor="start" font-weight="normal" fill="#2b2b2b" stroke="#2b2b2b" stroke-width="0.3" >p=0.059</text>
<circle cx="560.0" cy="115.2" r="1.75"/>
<circle cx="581.6" cy="107.6" r="1.75"/>
<circle cx="591.5" cy="111.8" r="1.75"/>
<circle cx="600.8" cy="90.1" r="1.75"/>
<circle cx="604.5" cy="91.1" r="1.75"/>
<circle cx="597.7" cy="105.3" r="1.75"/>
<circle cx="598.6" cy="103.2" r="1.75"/>
<circle cx="606.0" cy="101.2" r="1.75"/>
<circle cx="611.3" cy="102.5" r="1.75"/>
<circle cx="617.5" cy="101.6" r="1.75"/>
<circle cx="620.6" cy="100.4" r="1.75"/>
<circle cx="622.1" cy="98.5" r="1.75"/>
<circle cx="596.5" cy="119.0" r="1.75"/>
<circle cx="598.3" cy="125.1" r="1.75"/>
<circle cx="603.3" cy="127.2" r="1.75"/>
<circle cx="605.1" cy="118.3" r="1.75"/>
<circle cx="607.0" cy="117.1" r="1.75"/>
<circle cx="606.7" cy="110.3" r="1.75"/>
<circle cx="608.9" cy="109.0" r="1.75"/>
<circle cx="611.3" cy="114.0" r="1.75"/>
<circle cx="615.4" cy="114.9" r="1.75"/>
<circle cx="616.9" cy="114.4" r="1.75"/>
<circle cx="612.0" cy="126.1" r="1.75"/>
<circle cx="617.5" cy="123.3" r="1.75"/>
<circle cx="621.2" cy="112.8" r="1.75"/>
<circle cx="623.7" cy="114.4" r="1.75"/>
<circle cx="624.0" cy="116.2" r="1.75"/>
<circle cx="624.3" cy="107.4" r="1.75"/>
<circle cx="626.6" cy="107.4" r="1.75"/>
<circle cx="601.0" cy="138.1" r="1.75"/>
<circle cx="634.6" cy="112.3" r="1.75"/>
<circle cx="636.1" cy="102.9" r="1.75"/>
<circle cx="637.1" cy="101.9" r="1.75"/>
<circle cx="639.6" cy="98.4" r="1.75"/>
<circle cx="641.2" cy="105.5" r="1.75"/>
<circle cx="639.8" cy="111.1" r="1.75"/>
<circle cx="641.8" cy="112.8" r="1.75"/>
<circle cx="643.7" cy="87.2" r="1.75"/>
<circle cx="644.8" cy="98.5" r="1.75"/>
<circle cx="671.5" cy="80.6" r="1.75"/>
<circle cx="653.0" cy="92.1" r="1.75"/>
<circle cx="650.8" cy="97.5" r="1.75"/>
<circle cx="661.0" cy="97.7" r="1.75"/>
<circle cx="648.6" cy="114.6" r="1.75"/>
<circle cx="663.5" cy="119.0" r="1.75"/>
<circle cx="670.9" cy="115.6" r="1.75"/>
<circle cx="686.0" cy="110.5" r="1.75"/>
<circle cx="650.1" cy="127.0" r="1.75"/>
<line x1="81.3" y1="368.8" x2="250.9" y2="368.8" stroke="#222" stroke-width="1.5"/>
<line x1="82.1" y1="368.8" x2="82.1" y2="373.3" stroke="#222" stroke-width="1.5"/>
<text x="82.1" y="383.0" font-size="8.4" text-anchor="middle" font-weight="bold" fill="#111" stroke="#111" stroke-width="0.3" >-3</text>
<line x1="115.7" y1="368.8" x2="115.7" y2="373.3" stroke="#222" stroke-width="1.5"/>
<text x="115.7" y="383.0" font-size="8.4" text-anchor="middle" font-weight="bold" fill="#111" stroke="#111" stroke-width="0.3" >-2</text>
<line x1="149.3" y1="368.8" x2="149.3" y2="373.3" stroke="#222" stroke-width="1.5"/>
<text x="149.3" y="383.0" font-size="8.4" text-anchor="middle" font-weight="bold" fill="#111" stroke="#111" stroke-width="0.3" >-1</text>
<line x1="182.9" y1="368.8" x2="182.9" y2="373.3" stroke="#222" stroke-width="1.5"/>
<line x1="216.5" y1="368.8" x2="216.5" y2="373.3" stroke="#222" stroke-width="1.5"/>
<text x="216.5" y="383.0" font-size="8.4" text-anchor="middle" font-weight="bold" fill="#111" stroke="#111" stroke-width="0.3" >1</text>
<line x1="250.1" y1="368.8" x2="250.1" y2="373.3" stroke="#222" stroke-width="1.5"/>
<text x="250.1" y="383.0" font-size="8.4" text-anchor="middle" font-weight="bold" fill="#111" stroke="#111" stroke-width="0.3" >2</text>
<line x1="182.9" y1="391.9" x2="182.9" y2="278.9" stroke="#222" stroke-width="1.5"/>
<line x1="178.4" y1="391.1" x2="182.9" y2="391.1" stroke="#222" stroke-width="1.5"/>
<text x="176.9" y="394.1" font-size="8.4" text-anchor="end" font-weight="bold" fill="#111" stroke="#111" stroke-width="0.3" >-1</text>
<line x1="178.4" y1="346.5" x2="182.9" y2="346.5" stroke="#222" stroke-width="1.5"/>
<text x="176.9" y="349.5" font-size="8.4" text-anchor="end" font-weight="bold" fill="#111" stroke="#111" stroke-width="0.3" >1</text>
<line x1="178.4" y1="324.2" x2="182.9" y2="324.2" stroke="#222" stroke-width="1.5"/>
<text x="176.9" y="327.2" font-size="8.4" text-anchor="end" font-weight="bold" fill="#111" stroke="#111" stroke-width="0.3" >2</text>
<line x1="178.4" y1="301.9" x2="182.9" y2="301.9" stroke="#222" stroke-width="1.5"/>
<text x="176.9" y="304.9" font-size="8.4" text-anchor="end" font-weight="bold" fill="#111" stroke="#111" stroke-width="0.3" >3</text>
<line x1="178.4" y1="279.6" x2="182.9" y2="279.6" stroke="#222" stroke-width="1.5"/>
<text x="176.9" y="282.6" font-size="8.4" text-anchor="end" font-weight="bold" fill="#111" stroke="#111" stroke-width="0.3" >4</text>
<line x1="98.6" y1="355.4" x2="244.0" y2="341.2" stroke="#909090" stroke-width="1.35"/>
<text x="166.4" y="264.3" font-size="9.4" text-anchor="middle" font-weight="bold" fill="#111" stroke="#111" stroke-width="0.3" >Esserman breast</text>
<text x="0" y="0" font-size="9.4" text-anchor="middle" font-weight="bold" fill="#111" stroke="#111" stroke-width="0.3" transform="translate(59.5,334.2) rotate(-90)">VEGFR2</text>
<text x="0" y="0" font-size="9.4" text-anchor="middle" font-weight="bold" fill="#111" stroke="#111" stroke-width="0.3" transform="translate(71.8,334.2) rotate(-90)">log<tspan font-size="6.8" dy="2.1">2</tspan><tspan dy="-2.1"> median-centered ratio</tspan></text>
<text x="166.4" y="409.1" font-size="9.4" text-anchor="middle" font-weight="bold" fill="#111" stroke="#111" stroke-width="0.3" >FAK</text>
<text x="166.4" y="421.4" font-size="9.4" text-anchor="middle" font-weight="bold" fill="#111" stroke="#111" stroke-width="0.3" >log<tspan font-size="6.8" dy="2.1">2</tspan><tspan dy="-2.1"> median-centered ratio</tspan></text>
<text x="219.5" y="283.8" font-size="9.3" text-anchor="start" font-weight="normal" fill="#2b2b2b" stroke="#2b2b2b" stroke-width="0.3" >R=0.16</text>
<text x="219.5" y="294.1" font-size="9.3" text-anchor="start" font-weight="normal" fill="#2b2b2b" stroke="#2b2b2b" stroke-width="0.3" >p=0.08</text>
<circle cx="98.8" cy="343.3" r="1.75"/>
<circle cx="135.5" cy="373.5" r="1.75"/>
<circle cx="148.8" cy="348.9" r="1.75"/>
<circle cx="148.8" cy="352.1" r="1.75"/>
<circle cx="158.6" cy="315.2" r="1.75"/>
<circle cx="162.0" cy="321.4" r="1.75"/>
<circle cx="165.5" cy="320.0" r="1.75"/>
<circle cx="165.7" cy="327.2" r="1.75"/>
<circle cx="177.8" cy="312.4" r="1.75"/>
<circle cx="183.8" cy="318.9" r="1.75"/>
<circle cx="183.1" cy="328.5" r="1.75"/>
<circle cx="180.6" cy="332.0" r="1.75"/>
<circle cx="170.0" cy="336.5" r="1.75"/>
<circle cx="177.2" cy="336.8" r="1.75"/>
<circle cx="181.3" cy="338.2" r="1.75"/>
<circle cx="148.9" cy="348.5" r="1.75"/>
<circle cx="149.9" cy="353.0" r="1.75"/>
<circle cx="155.1" cy="354.0" r="1.75"/>
<circle cx="161.3" cy="349.4" r="1.75"/>
<circle cx="165.2" cy="347.5" r="1.75"/>
<circle cx="171.4" cy="344.4" r="1.75"/>
<circle cx="171.4" cy="348.5" r="1.75"/>
<circle cx="176.9" cy="343.9" r="1.75"/>
<circle cx="176.5" cy="347.1" r="1.75"/>
<circle cx="181.0" cy="350.5" r="1.75"/>
<circle cx="181.3" cy="349.2" r="1.75"/>
<circle cx="164.5" cy="354.7" r="1.75"/>
<circle cx="164.5" cy="356.7" r="1.75"/>
<circle cx="166.1" cy="354.0" r="1.75"/>
<circle cx="169.6" cy="358.1" r="1.75"/>
<circle cx="171.6" cy="357.2" r="1.75"/>
<circle cx="176.5" cy="358.8" r="1.75"/>
<circle cx="177.4" cy="360.9" r="1.75"/>
<circle cx="152.4" cy="359.1" r="1.75"/>
<circle cx="156.5" cy="360.9" r="1.75"/>
<circle cx="157.2" cy="362.9" r="1.75"/>
<circle cx="156.5" cy="367.1" r="1.75"/>
<circle cx="158.6" cy="369.1" r="1.75"/>
<circle cx="179.9" cy="363.6" r="1.75"/>
<circle cx="183.8" cy="358.8" r="1.75"/>
<circle cx="184.0" cy="354.0" r="1.75"/>
<circle cx="197.6" cy="304.2" r="1.75"/>
<circle cx="194.4" cy="310.0" r="1.75"/>
<circle cx="192.4" cy="313.7" r="1.75"/>
<circle cx="188.5" cy="315.5" r="1.75"/>
<circle cx="203.4" cy="310.9" r="1.75"/>
<circle cx="212.8" cy="310.0" r="1.75"/>
<circle cx="200.0" cy="318.2" r="1.75"/>
<circle cx="211.9" cy="318.2" r="1.75"/>
<circle cx="190.3" cy="326.1" r="1.75"/>
<circle cx="190.3" cy="329.2" r="1.75"/>
<circle cx="183.0" cy="328.5" r="1.75"/>
<circle cx="200.4" cy="326.2" r="1.75"/>
<circle cx="208.9" cy="328.3" r="1.75"/>
<circle cx="219.2" cy="326.5" r="1.75"/>
<circle cx="191.3" cy="337.5" r="1.75"/>
<circle cx="194.4" cy="338.4" r="1.75"/>
<circle cx="202.0" cy="337.2" r="1.75"/>
<circle cx="211.4" cy="336.8" r="1.75"/>
<circle cx="214.4" cy="338.2" r="1.75"/>
<circle cx="188.0" cy="342.0" r="1.75"/>
<circle cx="212.3" cy="341.6" r="1.75"/>
<circle cx="215.5" cy="342.0" r="1.75"/>
<circle cx="181.7" cy="347.8" r="1.75"/>
<circle cx="181.7" cy="351.2" r="1.75"/>
<circle cx="186.2" cy="350.5" r="1.75"/>
<circle cx="190.7" cy="352.6" r="1.75"/>
<circle cx="191.0" cy="354.7" r="1.75"/>
<circle cx="195.4" cy="348.5" r="1.75"/>
<circle cx="193.8" cy="356.1" r="1.75"/>
<circle cx="195.4" cy="357.4" r="1.75"/>
<circle cx="197.6" cy="354.7" r="1.75"/>
<circle cx="196.8" cy="358.1" r="1.75"/>
<circle cx="201.7" cy="351.9" r="1.75"/>
<circle cx="201.7" cy="354.0" r="1.75"/>
<circle cx="206.4" cy="347.8" r="1.75"/>
<circle cx="208.6" cy="345.7" r="1.75"/>
<circle cx="206.8" cy="352.6" r="1.75"/>
<circle cx="208.2" cy="353.3" r="1.75"/>
<circle cx="213.0" cy="348.5" r="1.75"/>
<circle cx="213.3" cy="351.2" r="1.75"/>
<circle cx="217.4" cy="348.5" r="1.75"/>
<circle cx="185.5" cy="358.1" r="1.75"/>
<circle cx="183.4" cy="361.6" r="1.75"/>
<circle cx="189.9" cy="360.9" r="1.75"/>
<circle cx="188.9" cy="364.3" r="1.75"/>
<circle cx="206.1" cy="358.8" r="1.75"/>
<circle cx="218.9" cy="359.5" r="1.75"/>
<circle cx="205.5" cy="365.4" r="1.75"/>
<circle cx="211.9" cy="364.3" r="1.75"/>
<circle cx="215.5" cy="364.3" r="1.75"/>
<circle cx="220.8" cy="324.4" r="1.75"/>
<circle cx="219.8" cy="326.5" r="1.75"/>
<circle cx="243.9" cy="325.1" r="1.75"/>
<circle cx="223.0" cy="331.6" r="1.75"/>
<circle cx="227.4" cy="333.8" r="1.75"/>
<circle cx="228.5" cy="332.7" r="1.75"/>
<circle cx="215.7" cy="341.6" r="1.75"/>
<circle cx="215.0" cy="337.5" r="1.75"/>
<circle cx="223.5" cy="344.4" r="1.75"/>
<circle cx="229.4" cy="340.2" r="1.75"/>
<circle cx="228.8" cy="343.0" r="1.75"/>
<circle cx="231.8" cy="342.0" r="1.75"/>
<circle cx="217.8" cy="348.5" r="1.75"/>
<circle cx="225.3" cy="347.8" r="1.75"/>
<circle cx="223.9" cy="354.4" r="1.75"/>
<circle cx="224.4" cy="356.1" r="1.75"/>
<circle cx="226.0" cy="358.8" r="1.75"/>
<circle cx="239.8" cy="351.6" r="1.75"/>
<circle cx="236.3" cy="354.7" r="1.75"/>
<circle cx="219.8" cy="359.5" r="1.75"/>
<circle cx="218.4" cy="361.6" r="1.75"/>
<circle cx="215.7" cy="364.3" r="1.75"/>
<circle cx="232.2" cy="362.9" r="1.75"/>
<circle cx="188.5" cy="383.0" r="1.75"/>
<line x1="311.8" y1="367.2" x2="486.5" y2="367.2" stroke="#222" stroke-width="1.5"/>
<line x1="312.5" y1="367.2" x2="312.5" y2="371.7" stroke="#222" stroke-width="1.5"/>
<text x="312.5" y="381.4" font-size="8.4" text-anchor="middle" font-weight="bold" fill="#111" stroke="#111" stroke-width="0.3" >-2</text>
<line x1="355.8" y1="367.2" x2="355.8" y2="371.7" stroke="#222" stroke-width="1.5"/>
<text x="355.8" y="381.4" font-size="8.4" text-anchor="middle" font-weight="bold" fill="#111" stroke="#111" stroke-width="0.3" >-1</text>
<line x1="399.1" y1="367.2" x2="399.1" y2="371.7" stroke="#222" stroke-width="1.5"/>
<line x1="442.4" y1="367.2" x2="442.4" y2="371.7" stroke="#222" stroke-width="1.5"/>
<text x="442.4" y="381.4" font-size="8.4" text-anchor="middle" font-weight="bold" fill="#111" stroke="#111" stroke-width="0.3" >1</text>
<line x1="485.7" y1="367.2" x2="485.7" y2="371.7" stroke="#222" stroke-width="1.5"/>
<text x="485.7" y="381.4" font-size="8.4" text-anchor="middle" font-weight="bold" fill="#111" stroke="#111" stroke-width="0.3" >2</text>
<line x1="399.1" y1="396.6" x2="399.1" y2="280.6" stroke="#222" stroke-width="1.5"/>
<line x1="394.6" y1="395.8" x2="399.1" y2="395.8" stroke="#222" stroke-width="1.5"/>
<text x="393.1" y="398.8" font-size="8.4" text-anchor="end" font-weight="bold" fill="#111" stroke="#111" stroke-width="0.3" >-1</text>
<line x1="394.6" y1="338.6" x2="399.1" y2="338.6" stroke="#222" stroke-width="1.5"/>
<text x="393.1" y="341.6" font-size="8.4" text-anchor="end" font-weight="bold" fill="#111" stroke="#111" stroke-width="0.3" >1</text>
<line x1="394.6" y1="310.0" x2="399.1" y2="310.0" stroke="#222" stroke-width="1.5"/>
<text x="393.1" y="313.0" font-size="8.4" text-anchor="end" font-weight="bold" fill="#111" stroke="#111" stroke-width="0.3" >2</text>
<line x1="394.6" y1="281.4" x2="399.1" y2="281.4" stroke="#222" stroke-width="1.5"/>
<text x="393.1" y="284.4" font-size="8.4" text-anchor="end" font-weight="bold" fill="#111" stroke="#111" stroke-width="0.3" >3</text>
<line x1="357.0" y1="339.0" x2="477.2" y2="333.6" stroke="#909090" stroke-width="1.35"/>
<text x="399.0" y="266.2" font-size="9.4" text-anchor="middle" font-weight="bold" fill="#111" stroke="#111" stroke-width="0.3" >Esserman breast</text>
<text x="0" y="0" font-size="9.4" text-anchor="middle" font-weight="bold" fill="#111" stroke="#111" stroke-width="0.3" transform="translate(296.0,337.6) rotate(-90)">VEGFR2</text>
<text x="0" y="0" font-size="9.6" text-anchor="middle" font-weight="bold" fill="#111" stroke="#111" stroke-width="0.3" transform="translate(307.4,337.6) rotate(-90)">log<tspan font-size="6.9" dy="2.1">2</tspan><tspan dy="-2.1"> median-centered ratio</tspan></text>
<text x="399.0" y="407.4" font-size="9.4" text-anchor="middle" font-weight="bold" fill="#111" stroke="#111" stroke-width="0.3" >FAK</text>
<text x="399.0" y="419.6" font-size="9.4" text-anchor="middle" font-weight="bold" fill="#111" stroke="#111" stroke-width="0.3" >log<tspan font-size="6.8" dy="2.1">2</tspan><tspan dy="-2.1"> median-centered ratio</tspan></text>
<text x="453.5" y="285.3" font-size="9.3" text-anchor="start" font-weight="normal" fill="#2b2b2b" stroke="#2b2b2b" stroke-width="0.3" >R=0.06</text>
<text x="453.5" y="294.9" font-size="9.3" text-anchor="start" font-weight="normal" fill="#2b2b2b" stroke="#2b2b2b" stroke-width="0.3" >p=0.55</text>
<circle cx="356.0" cy="346.1" r="1.75"/>
<circle cx="358.9" cy="354.0" r="1.75"/>
<circle cx="367.3" cy="298.0" r="1.75"/>
<circle cx="392.4" cy="295.1" r="1.75"/>
<circle cx="371.9" cy="306.0" r="1.75"/>
<circle cx="376.6" cy="304.7" r="1.75"/>
<circle cx="376.9" cy="313.6" r="1.75"/>
<circle cx="400.0" cy="302.7" r="1.75"/>
<circle cx="407.2" cy="299.3" r="1.75"/>
<circle cx="399.1" cy="315.3" r="1.75"/>
<circle cx="408.0" cy="311.9" r="1.75"/>
<circle cx="408.0" cy="316.1" r="1.75"/>
<circle cx="382.5" cy="325.4" r="1.75"/>
<circle cx="392.4" cy="325.9" r="1.75"/>
<circle cx="408.5" cy="326.2" r="1.75"/>
<circle cx="405.2" cy="332.1" r="1.75"/>
<circle cx="383.6" cy="335.5" r="1.75"/>
<circle cx="391.2" cy="335.0" r="1.75"/>
<circle cx="391.7" cy="339.2" r="1.75"/>
<circle cx="376.1" cy="339.7" r="1.75"/>
<circle cx="371.0" cy="342.2" r="1.75"/>
<circle cx="383.6" cy="341.0" r="1.75"/>
<circle cx="395.8" cy="343.0" r="1.75"/>
<circle cx="403.0" cy="344.4" r="1.75"/>
<circle cx="363.1" cy="347.6" r="1.75"/>
<circle cx="374.9" cy="349.8" r="1.75"/>
<circle cx="399.6" cy="348.1" r="1.75"/>
<circle cx="408.5" cy="345.9" r="1.75"/>
<circle cx="408.0" cy="348.1" r="1.75"/>
<circle cx="364.0" cy="355.3" r="1.75"/>
<circle cx="385.0" cy="352.0" r="1.75"/>
<circle cx="385.7" cy="353.1" r="1.75"/>
<circle cx="392.1" cy="354.0" r="1.75"/>
<circle cx="390.4" cy="356.5" r="1.75"/>
<circle cx="403.5" cy="352.6" r="1.75"/>
<circle cx="400.1" cy="355.3" r="1.75"/>
<circle cx="408.9" cy="356.5" r="1.75"/>
<circle cx="394.9" cy="360.2" r="1.75"/>
<circle cx="399.1" cy="360.7" r="1.75"/>
<circle cx="405.5" cy="361.5" r="1.75"/>
<circle cx="405.8" cy="363.2" r="1.75"/>
<circle cx="367.3" cy="368.3" r="1.75"/>
<circle cx="407.2" cy="385.1" r="1.75"/>
<circle cx="413.9" cy="291.2" r="1.75"/>
<circle cx="425.0" cy="292.8" r="1.75"/>
<circle cx="410.8" cy="296.0" r="1.75"/>
<circle cx="420.1" cy="302.2" r="1.75"/>
<circle cx="436.0" cy="302.2" r="1.75"/>
<circle cx="420.8" cy="312.2" r="1.75"/>
<circle cx="432.2" cy="315.0" r="1.75"/>
<circle cx="446.3" cy="311.1" r="1.75"/>
<circle cx="445.6" cy="313.2" r="1.75"/>
<circle cx="449.0" cy="319.4" r="1.75"/>
<circle cx="409.1" cy="326.3" r="1.75"/>
<circle cx="413.3" cy="327.9" r="1.75"/>
<circle cx="423.3" cy="325.9" r="1.75"/>
<circle cx="434.6" cy="326.0" r="1.75"/>
<circle cx="435.5" cy="330.4" r="1.75"/>
<circle cx="415.3" cy="340.7" r="1.75"/>
<circle cx="421.5" cy="344.4" r="1.75"/>
<circle cx="428.4" cy="340.0" r="1.75"/>
<circle cx="432.2" cy="337.3" r="1.75"/>
<circle cx="437.8" cy="340.7" r="1.75"/>
<circle cx="438.0" cy="344.4" r="1.75"/>
<circle cx="429.1" cy="344.9" r="1.75"/>
<circle cx="429.8" cy="346.9" r="1.75"/>
<circle cx="430.9" cy="347.2" r="1.75"/>
<circle cx="409.4" cy="345.5" r="1.75"/>
<circle cx="412.2" cy="349.7" r="1.75"/>
<circle cx="417.1" cy="347.2" r="1.75"/>
<circle cx="417.1" cy="349.4" r="1.75"/>
<circle cx="414.4" cy="352.7" r="1.75"/>
<circle cx="416.0" cy="353.1" r="1.75"/>
<circle cx="409.8" cy="356.3" r="1.75"/>
<circle cx="408.4" cy="357.2" r="1.75"/>
<circle cx="405.7" cy="360.4" r="1.75"/>
<circle cx="405.7" cy="362.7" r="1.75"/>
<circle cx="429.5" cy="354.2" r="1.75"/>
<circle cx="444.9" cy="354.5" r="1.75"/>
<circle cx="427.7" cy="363.0" r="1.75"/>
<circle cx="436.0" cy="361.4" r="1.75"/>
<circle cx="440.5" cy="360.7" r="1.75"/>
<circle cx="477.3" cy="310.5" r="1.75"/>
<circle cx="455.7" cy="321.5" r="1.75"/>
<circle cx="457.1" cy="320.5" r="1.75"/>
<circle cx="458.8" cy="330.1" r="1.75"/>
<circle cx="457.1" cy="334.3" r="1.75"/>
<circle cx="461.8" cy="332.9" r="1.75"/>
<circle cx="450.8" cy="336.2" r="1.75"/>
<circle cx="451.2" cy="348.3" r="1.75"/>
<circle cx="451.2" cy="350.8" r="1.75"/>
<circle cx="467.3" cy="349.0" r="1.75"/>
<circle cx="453.9" cy="354.5" r="1.75"/>
<circle cx="462.2" cy="359.3" r="1.75"/>
<line x1="551.5" y1="369.0" x2="722.0" y2="369.0" stroke="#222" stroke-width="1.5"/>
<line x1="552.2" y1="369.0" x2="552.2" y2="373.5" stroke="#222" stroke-width="1.5"/>
<text x="552.2" y="383.2" font-size="8.4" text-anchor="middle" font-weight="bold" fill="#111" stroke="#111" stroke-width="0.3" >-3</text>
<line x1="586.0" y1="369.0" x2="586.0" y2="373.5" stroke="#222" stroke-width="1.5"/>
<text x="586.0" y="383.2" font-size="8.4" text-anchor="middle" font-weight="bold" fill="#111" stroke="#111" stroke-width="0.3" >-2</text>
<line x1="619.8" y1="369.0" x2="619.8" y2="373.5" stroke="#222" stroke-width="1.5"/>
<text x="619.8" y="383.2" font-size="8.4" text-anchor="middle" font-weight="bold" fill="#111" stroke="#111" stroke-width="0.3" >-1</text>
<line x1="653.6" y1="369.0" x2="653.6" y2="373.5" stroke="#222" stroke-width="1.5"/>
<line x1="687.4" y1="369.0" x2="687.4" y2="373.5" stroke="#222" stroke-width="1.5"/>
<text x="687.4" y="383.2" font-size="8.4" text-anchor="middle" font-weight="bold" fill="#111" stroke="#111" stroke-width="0.3" >1</text>
<line x1="721.2" y1="369.0" x2="721.2" y2="373.5" stroke="#222" stroke-width="1.5"/>
<text x="721.2" y="383.2" font-size="8.4" text-anchor="middle" font-weight="bold" fill="#111" stroke="#111" stroke-width="0.3" >2</text>
<line x1="653.6" y1="392.1" x2="653.6" y2="279.1" stroke="#222" stroke-width="1.5"/>
<line x1="649.1" y1="391.3" x2="653.6" y2="391.3" stroke="#222" stroke-width="1.5"/>
<text x="647.6" y="394.3" font-size="8.4" text-anchor="end" font-weight="bold" fill="#111" stroke="#111" stroke-width="0.3" >-1</text>
<line x1="649.1" y1="346.7" x2="653.6" y2="346.7" stroke="#222" stroke-width="1.5"/>
<text x="647.6" y="349.7" font-size="8.4" text-anchor="end" font-weight="bold" fill="#111" stroke="#111" stroke-width="0.3" >1</text>
<line x1="649.1" y1="324.4" x2="653.6" y2="324.4" stroke="#222" stroke-width="1.5"/>
<text x="647.6" y="327.4" font-size="8.4" text-anchor="end" font-weight="bold" fill="#111" stroke="#111" stroke-width="0.3" >2</text>
<line x1="649.1" y1="302.1" x2="653.6" y2="302.1" stroke="#222" stroke-width="1.5"/>
<text x="647.6" y="305.1" font-size="8.4" text-anchor="end" font-weight="bold" fill="#111" stroke="#111" stroke-width="0.3" >3</text>
<line x1="649.1" y1="279.8" x2="653.6" y2="279.8" stroke="#222" stroke-width="1.5"/>
<text x="647.6" y="282.8" font-size="8.4" text-anchor="end" font-weight="bold" fill="#111" stroke="#111" stroke-width="0.3" >4</text>
<line x1="569.3" y1="363.3" x2="710.8" y2="337.4" stroke="#909090" stroke-width="1.35"/>
<text x="636.8" y="265.3" font-size="9.4" text-anchor="middle" font-weight="bold" fill="#111" stroke="#111" stroke-width="0.3" >Esserman breast</text>
<text x="0" y="0" font-size="9.4" text-anchor="middle" font-weight="bold" fill="#111" stroke="#111" stroke-width="0.3" transform="translate(530.6,334.2) rotate(-90)">VEGFR2</text>
<text x="0" y="0" font-size="9.4" text-anchor="middle" font-weight="bold" fill="#111" stroke="#111" stroke-width="0.3" transform="translate(542.2,334.2) rotate(-90)">log<tspan font-size="6.8" dy="2.1">2</tspan><tspan dy="-2.1"> median-centered ratio</tspan></text>
<text x="636.8" y="408.9" font-size="9.4" text-anchor="middle" font-weight="bold" fill="#111" stroke="#111" stroke-width="0.3" >FAK</text>
<text x="636.8" y="421.4" font-size="9.4" text-anchor="middle" font-weight="bold" fill="#111" stroke="#111" stroke-width="0.3" >log<tspan font-size="6.8" dy="2.1">2</tspan><tspan dy="-2.1"> median-centered ratio</tspan></text>
<text x="690.5" y="283.9" font-size="9.3" text-anchor="start" font-weight="normal" fill="#2b2b2b" stroke="#2b2b2b" stroke-width="0.3" >R=0.35</text>
<text x="690.5" y="294.2" font-size="9.3" text-anchor="start" font-weight="normal" fill="#2b2b2b" stroke="#2b2b2b" stroke-width="0.3" >p=0.06</text>
<circle cx="569.3" cy="343.0" r="1.75"/>
<circle cx="619.6" cy="348.7" r="1.75"/>
<circle cx="606.2" cy="373.3" r="1.75"/>
<circle cx="622.7" cy="359.3" r="1.75"/>
<circle cx="626.5" cy="354.9" r="1.75"/>
<circle cx="628.0" cy="361.8" r="1.75"/>
<circle cx="627.4" cy="366.5" r="1.75"/>
<circle cx="630.5" cy="369.0" r="1.75"/>
<circle cx="635.2" cy="356.5" r="1.75"/>
<circle cx="637.4" cy="354.0" r="1.75"/>
<circle cx="640.5" cy="358.7" r="1.75"/>
<circle cx="642.7" cy="358.0" r="1.75"/>
<circle cx="651.1" cy="332.1" r="1.75"/>
<circle cx="652.1" cy="338.4" r="1.75"/>
<circle cx="652.1" cy="351.5" r="1.75"/>
<circle cx="659.2" cy="315.6" r="1.75"/>
<circle cx="668.6" cy="304.6" r="1.75"/>
<circle cx="667.0" cy="354.9" r="1.75"/>
<circle cx="672.7" cy="337.4" r="1.75"/>
<circle cx="673.3" cy="354.0" r="1.75"/>
<circle cx="677.4" cy="350.8" r="1.75"/>
<circle cx="683.6" cy="310.3" r="1.75"/>
<circle cx="684.8" cy="337.4" r="1.75"/>
<circle cx="684.8" cy="341.5" r="1.75"/>
<circle cx="686.7" cy="341.5" r="1.75"/>
<circle cx="688.9" cy="348.3" r="1.75"/>
<circle cx="689.8" cy="360.2" r="1.75"/>
<circle cx="696.1" cy="348.3" r="1.75"/>
<circle cx="710.8" cy="351.5" r="1.75"/>
<line x1="78.9" y1="544.4" x2="250.8" y2="544.4" stroke="#222" stroke-width="1.5"/>
<line x1="79.7" y1="544.4" x2="79.7" y2="548.9" stroke="#222" stroke-width="1.5"/>
<text x="79.7" y="558.6" font-size="8.4" text-anchor="middle" font-weight="bold" fill="#111" stroke="#111" stroke-width="0.3" >-6</text>
<line x1="122.3" y1="544.4" x2="122.3" y2="548.9" stroke="#222" stroke-width="1.5"/>
<text x="122.3" y="558.6" font-size="8.4" text-anchor="middle" font-weight="bold" fill="#111" stroke="#111" stroke-width="0.3" >-4</text>
<line x1="164.9" y1="544.4" x2="164.9" y2="548.9" stroke="#222" stroke-width="1.5"/>
<text x="164.9" y="558.6" font-size="8.4" text-anchor="middle" font-weight="bold" fill="#111" stroke="#111" stroke-width="0.3" >-2</text>
<line x1="207.5" y1="544.4" x2="207.5" y2="548.9" stroke="#222" stroke-width="1.5"/>
<line x1="250.1" y1="544.4" x2="250.1" y2="548.9" stroke="#222" stroke-width="1.5"/>
<text x="250.1" y="558.6" font-size="8.4" text-anchor="middle" font-weight="bold" fill="#111" stroke="#111" stroke-width="0.3" >2</text>
<line x1="207.5" y1="613.4" x2="207.5" y2="498.1" stroke="#222" stroke-width="1.5"/>
<line x1="203.0" y1="612.6" x2="207.5" y2="612.6" stroke="#222" stroke-width="1.5"/>
<text x="201.5" y="615.7" font-size="8.4" text-anchor="end" font-weight="bold" fill="#111" stroke="#111" stroke-width="0.3" >-3</text>
<line x1="203.0" y1="589.9" x2="207.5" y2="589.9" stroke="#222" stroke-width="1.5"/>
<text x="201.5" y="592.9" font-size="8.4" text-anchor="end" font-weight="bold" fill="#111" stroke="#111" stroke-width="0.3" >-2</text>
<line x1="203.0" y1="567.1" x2="207.5" y2="567.1" stroke="#222" stroke-width="1.5"/>
<text x="201.5" y="570.2" font-size="8.4" text-anchor="end" font-weight="bold" fill="#111" stroke="#111" stroke-width="0.3" >-1</text>
<line x1="203.0" y1="521.6" x2="207.5" y2="521.6" stroke="#222" stroke-width="1.5"/>
<text x="201.5" y="524.7" font-size="8.4" text-anchor="end" font-weight="bold" fill="#111" stroke="#111" stroke-width="0.3" >1</text>
<line x1="203.0" y1="498.9" x2="207.5" y2="498.9" stroke="#222" stroke-width="1.5"/>
<text x="201.5" y="501.9" font-size="8.4" text-anchor="end" font-weight="bold" fill="#111" stroke="#111" stroke-width="0.3" >2</text>
<line x1="107.7" y1="579.7" x2="238.4" y2="530.3" stroke="#909090" stroke-width="1.35"/>
<text x="164.5" y="484.3" font-size="9.4" text-anchor="middle" font-weight="bold" fill="#111" stroke="#111" stroke-width="0.3" >Waddell breast</text>
<text x="0" y="0" font-size="9.4" text-anchor="middle" font-weight="bold" fill="#111" stroke="#111" stroke-width="0.3" transform="translate(61.2,555.0) rotate(-90)">VEGFR2</text>
<text x="0" y="0" font-size="9.4" text-anchor="middle" font-weight="bold" fill="#111" stroke="#111" stroke-width="0.3" transform="translate(71.9,555.0) rotate(-90)">log<tspan font-size="6.8" dy="2.1">2</tspan><tspan dy="-2.1"> median-centered ratio</tspan></text>
<text x="164.5" y="619.8" font-size="9.4" text-anchor="middle" font-weight="bold" fill="#111" stroke="#111" stroke-width="0.3" >FAK</text>
<text x="164.5" y="632.1" font-size="9.4" text-anchor="middle" font-weight="bold" fill="#111" stroke="#111" stroke-width="0.3" >log<tspan font-size="6.8" dy="2.1">2</tspan><tspan dy="-2.1"> median-centered ratio</tspan></text>
<text x="83.6" y="503.9" font-size="9.3" text-anchor="start" font-weight="normal" fill="#2b2b2b" stroke="#2b2b2b" stroke-width="0.3" >R=0.59</text>
<text x="83.6" y="514.3" font-size="9.3" text-anchor="start" font-weight="normal" fill="#2b2b2b" stroke="#2b2b2b" stroke-width="0.3" >p&lt;0.01</text>
<circle cx="108.1" cy="520.1" r="1.75"/>
<circle cx="164.9" cy="539.4" r="1.75"/>
<circle cx="150.0" cy="548.3" r="1.75"/>
<circle cx="157.6" cy="551.8" r="1.75"/>
<circle cx="158.6" cy="550.4" r="1.75"/>
<circle cx="163.8" cy="552.9" r="1.75"/>
<circle cx="173.2" cy="553.4" r="1.75"/>
<circle cx="143.4" cy="558.9" r="1.75"/>
<circle cx="150.0" cy="560.0" r="1.75"/>
<circle cx="162.2" cy="560.7" r="1.75"/>
<circle cx="162.7" cy="562.8" r="1.75"/>
<circle cx="163.5" cy="563.9" r="1.75"/>
<circle cx="168.6" cy="565.5" r="1.75"/>
<circle cx="170.0" cy="568.6" r="1.75"/>
<circle cx="152.5" cy="568.6" r="1.75"/>
<circle cx="107.7" cy="571.7" r="1.75"/>
<circle cx="162.4" cy="576.6" r="1.75"/>
<circle cx="159.0" cy="588.3" r="1.75"/>
<circle cx="112.3" cy="595.1" r="1.75"/>
<circle cx="119.4" cy="595.3" r="1.75"/>
<circle cx="120.5" cy="598.8" r="1.75"/>
<circle cx="216.7" cy="510.3" r="1.75"/>
<circle cx="228.6" cy="509.5" r="1.75"/>
<circle cx="233.2" cy="510.3" r="1.75"/>
<circle cx="230.7" cy="514.1" r="1.75"/>
<circle cx="239.1" cy="518.0" r="1.75"/>
<circle cx="213.1" cy="519.0" r="1.75"/>
<circle cx="209.5" cy="522.2" r="1.75"/>
<circle cx="218.2" cy="521.8" r="1.75"/>
<circle cx="223.8" cy="520.2" r="1.75"/>
<circle cx="225.4" cy="520.5" r="1.75"/>
<circle cx="197.8" cy="522.5" r="1.75"/>
<circle cx="229.7" cy="526.8" r="1.75"/>
<circle cx="226.3" cy="530.2" r="1.75"/>
<circle cx="236.2" cy="528.3" r="1.75"/>
<circle cx="234.2" cy="531.4" r="1.75"/>
<circle cx="212.5" cy="531.3" r="1.75"/>
<circle cx="208.2" cy="533.2" r="1.75"/>
<circle cx="209.0" cy="539.4" r="1.75"/>
<circle cx="216.7" cy="538.1" r="1.75"/>
<circle cx="230.9" cy="538.1" r="1.75"/>
<circle cx="233.5" cy="540.6" r="1.75"/>
<circle cx="237.0" cy="540.1" r="1.75"/>
<circle cx="232.0" cy="542.7" r="1.75"/>
<circle cx="189.6" cy="539.1" r="1.75"/>
<circle cx="192.6" cy="537.5" r="1.75"/>
<circle cx="191.1" cy="544.7" r="1.75"/>
<circle cx="203.3" cy="542.7" r="1.75"/>
<circle cx="201.8" cy="545.5" r="1.75"/>
<circle cx="204.0" cy="546.2" r="1.75"/>
<circle cx="205.9" cy="544.7" r="1.75"/>
<circle cx="223.8" cy="543.6" r="1.75"/>
<circle cx="228.9" cy="544.7" r="1.75"/>
<circle cx="210.1" cy="548.2" r="1.75"/>
<circle cx="212.1" cy="548.8" r="1.75"/>
<circle cx="213.6" cy="549.8" r="1.75"/>
<circle cx="222.8" cy="549.8" r="1.75"/>
<circle cx="228.6" cy="551.3" r="1.75"/>
<circle cx="232.4" cy="548.5" r="1.75"/>
<circle cx="209.0" cy="557.7" r="1.75"/>
<circle cx="182.2" cy="563.8" r="1.75"/>
<circle cx="192.2" cy="564.9" r="1.75"/>
<circle cx="199.8" cy="562.3" r="1.75"/>
<circle cx="199.1" cy="570.7" r="1.75"/>
<circle cx="175.8" cy="569.6" r="1.75"/>
<circle cx="192.6" cy="577.6" r="1.75"/>
<circle cx="233.9" cy="592.9" r="1.75"/>
<line x1="315.1" y1="544.5" x2="487.0" y2="544.5" stroke="#222" stroke-width="1.5"/>
<line x1="315.8" y1="544.5" x2="315.8" y2="549.0" stroke="#222" stroke-width="1.5"/>
<text x="315.8" y="558.7" font-size="8.4" text-anchor="middle" font-weight="bold" fill="#111" stroke="#111" stroke-width="0.3" >-6</text>
<line x1="358.4" y1="544.5" x2="358.4" y2="549.0" stroke="#222" stroke-width="1.5"/>
<text x="358.4" y="558.7" font-size="8.4" text-anchor="middle" font-weight="bold" fill="#111" stroke="#111" stroke-width="0.3" >-4</text>
<line x1="401.0" y1="544.5" x2="401.0" y2="549.0" stroke="#222" stroke-width="1.5"/>
<text x="401.0" y="558.7" font-size="8.4" text-anchor="middle" font-weight="bold" fill="#111" stroke="#111" stroke-width="0.3" >-2</text>
<line x1="443.6" y1="544.5" x2="443.6" y2="549.0" stroke="#222" stroke-width="1.5"/>
<line x1="486.2" y1="544.5" x2="486.2" y2="549.0" stroke="#222" stroke-width="1.5"/>
<text x="486.2" y="558.7" font-size="8.4" text-anchor="middle" font-weight="bold" fill="#111" stroke="#111" stroke-width="0.3" >2</text>
<line x1="443.6" y1="613.6" x2="443.6" y2="498.1" stroke="#222" stroke-width="1.5"/>
<line x1="439.1" y1="612.9" x2="443.6" y2="612.9" stroke="#222" stroke-width="1.5"/>
<text x="437.6" y="615.9" font-size="8.4" text-anchor="end" font-weight="bold" fill="#111" stroke="#111" stroke-width="0.3" >-3</text>
<line x1="439.1" y1="590.1" x2="443.6" y2="590.1" stroke="#222" stroke-width="1.5"/>
<text x="437.6" y="593.1" font-size="8.4" text-anchor="end" font-weight="bold" fill="#111" stroke="#111" stroke-width="0.3" >-2</text>
<line x1="439.1" y1="567.3" x2="443.6" y2="567.3" stroke="#222" stroke-width="1.5"/>
<text x="437.6" y="570.3" font-size="8.4" text-anchor="end" font-weight="bold" fill="#111" stroke="#111" stroke-width="0.3" >-1</text>
<line x1="439.1" y1="521.7" x2="443.6" y2="521.7" stroke="#222" stroke-width="1.5"/>
<text x="437.6" y="524.7" font-size="8.4" text-anchor="end" font-weight="bold" fill="#111" stroke="#111" stroke-width="0.3" >1</text>
<line x1="439.1" y1="498.9" x2="443.6" y2="498.9" stroke="#222" stroke-width="1.5"/>
<text x="437.6" y="501.9" font-size="8.4" text-anchor="end" font-weight="bold" fill="#111" stroke="#111" stroke-width="0.3" >2</text>
<line x1="343.4" y1="574.3" x2="471.8" y2="533.8" stroke="#909090" stroke-width="1.35"/>
<text x="400.7" y="484.4" font-size="9.4" text-anchor="middle" font-weight="bold" fill="#111" stroke="#111" stroke-width="0.3" >Waddell breast</text>
<text x="0" y="0" font-size="9.4" text-anchor="middle" font-weight="bold" fill="#111" stroke="#111" stroke-width="0.3" transform="translate(295.6,555.0) rotate(-90)">VEGFR2</text>
<text x="0" y="0" font-size="9.4" text-anchor="middle" font-weight="bold" fill="#111" stroke="#111" stroke-width="0.3" transform="translate(307.6,555.0) rotate(-90)">log<tspan font-size="6.8" dy="2.1">2</tspan><tspan dy="-2.1"> median-centered ratio</tspan></text>
<text x="400.7" y="620.1" font-size="9.4" text-anchor="middle" font-weight="bold" fill="#111" stroke="#111" stroke-width="0.3" >FAK</text>
<text x="400.7" y="632.1" font-size="9.4" text-anchor="middle" font-weight="bold" fill="#111" stroke="#111" stroke-width="0.3" >log<tspan font-size="6.8" dy="2.1">2</tspan><tspan dy="-2.1"> median-centered ratio</tspan></text>
<text x="319.0" y="503.9" font-size="9.3" text-anchor="start" font-weight="normal" fill="#2b2b2b" stroke="#2b2b2b" stroke-width="0.3" >R=0.54</text>
<text x="319.0" y="515.0" font-size="9.3" text-anchor="start" font-weight="normal" fill="#2b2b2b" stroke="#2b2b2b" stroke-width="0.3" >p&lt;0.01</text>
<circle cx="344.1" cy="520.3" r="1.75"/>
<circle cx="400.4" cy="539.7" r="1.75"/>
<circle cx="385.5" cy="548.3" r="1.75"/>
<circle cx="393.0" cy="551.3" r="1.75"/>
<circle cx="400.1" cy="552.9" r="1.75"/>
<circle cx="379.3" cy="559.0" r="1.75"/>
<circle cx="398.4" cy="560.8" r="1.75"/>
<circle cx="404.2" cy="565.1" r="1.75"/>
<circle cx="387.8" cy="568.8" r="1.75"/>
<circle cx="343.5" cy="571.8" r="1.75"/>
<circle cx="394.7" cy="588.4" r="1.75"/>
<circle cx="348.0" cy="595.2" r="1.75"/>
<circle cx="354.8" cy="596.0" r="1.75"/>
<circle cx="355.7" cy="598.0" r="1.75"/>
<circle cx="452.1" cy="510.3" r="1.75"/>
<circle cx="466.2" cy="514.1" r="1.75"/>
<circle cx="448.6" cy="519.0" r="1.75"/>
<circle cx="445.1" cy="522.2" r="1.75"/>
<circle cx="454.0" cy="521.8" r="1.75"/>
<circle cx="433.3" cy="522.8" r="1.75"/>
<circle cx="465.4" cy="526.8" r="1.75"/>
<circle cx="461.6" cy="530.2" r="1.75"/>
<circle cx="472.0" cy="528.7" r="1.75"/>
<circle cx="470.0" cy="531.4" r="1.75"/>
<circle cx="444.5" cy="533.2" r="1.75"/>
<circle cx="452.4" cy="538.6" r="1.75"/>
<circle cx="424.9" cy="539.1" r="1.75"/>
<circle cx="428.3" cy="537.5" r="1.75"/>
<circle cx="426.7" cy="544.7" r="1.75"/>
<circle cx="438.3" cy="543.2" r="1.75"/>
<circle cx="437.1" cy="545.5" r="1.75"/>
<circle cx="439.4" cy="544.3" r="1.75"/>
<circle cx="445.1" cy="548.5" r="1.75"/>
<circle cx="447.1" cy="547.8" r="1.75"/>
<circle cx="458.2" cy="549.8" r="1.75"/>
<circle cx="464.3" cy="551.3" r="1.75"/>
<circle cx="467.7" cy="548.5" r="1.75"/>
<circle cx="467.4" cy="542.1" r="1.75"/>
<circle cx="468.9" cy="540.6" r="1.75"/>
<circle cx="472.3" cy="540.1" r="1.75"/>
<circle cx="418.0" cy="563.5" r="1.75"/>
<circle cx="427.6" cy="564.6" r="1.75"/>
<circle cx="434.4" cy="570.3" r="1.75"/>
<circle cx="469.2" cy="592.9" r="1.75"/>
<line x1="551.8" y1="555.2" x2="721.8" y2="555.2" stroke="#222" stroke-width="1.5"/>
<line x1="552.5" y1="555.2" x2="552.5" y2="559.7" stroke="#222" stroke-width="1.5"/>
<text x="552.5" y="569.4" font-size="8.4" text-anchor="middle" font-weight="bold" fill="#111" stroke="#111" stroke-width="0.3" >-3</text>
<line x1="586.2" y1="555.2" x2="586.2" y2="559.7" stroke="#222" stroke-width="1.5"/>
<text x="586.2" y="569.4" font-size="8.4" text-anchor="middle" font-weight="bold" fill="#111" stroke="#111" stroke-width="0.3" >-2</text>
<line x1="619.9" y1="555.2" x2="619.9" y2="559.7" stroke="#222" stroke-width="1.5"/>
<text x="619.9" y="569.4" font-size="8.4" text-anchor="middle" font-weight="bold" fill="#111" stroke="#111" stroke-width="0.3" >-1</text>
<line x1="653.6" y1="555.2" x2="653.6" y2="559.7" stroke="#222" stroke-width="1.5"/>
<line x1="687.3" y1="555.2" x2="687.3" y2="559.7" stroke="#222" stroke-width="1.5"/>
<text x="687.3" y="569.4" font-size="8.4" text-anchor="middle" font-weight="bold" fill="#111" stroke="#111" stroke-width="0.3" >1</text>
<line x1="721.0" y1="555.2" x2="721.0" y2="559.7" stroke="#222" stroke-width="1.5"/>
<text x="721.0" y="569.4" font-size="8.4" text-anchor="middle" font-weight="bold" fill="#111" stroke="#111" stroke-width="0.3" >2</text>
<line x1="653.6" y1="612.2" x2="653.6" y2="498.3" stroke="#222" stroke-width="1.5"/>
<line x1="649.1" y1="611.4" x2="653.6" y2="611.4" stroke="#222" stroke-width="1.5"/>
<text x="647.6" y="614.4" font-size="8.4" text-anchor="end" font-weight="bold" fill="#111" stroke="#111" stroke-width="0.3" >-2</text>
<line x1="649.1" y1="583.3" x2="653.6" y2="583.3" stroke="#222" stroke-width="1.5"/>
<text x="647.6" y="586.3" font-size="8.4" text-anchor="end" font-weight="bold" fill="#111" stroke="#111" stroke-width="0.3" >-1</text>
<line x1="649.1" y1="527.1" x2="653.6" y2="527.1" stroke="#222" stroke-width="1.5"/>
<text x="647.6" y="530.1" font-size="8.4" text-anchor="end" font-weight="bold" fill="#111" stroke="#111" stroke-width="0.3" >1</text>
<line x1="649.1" y1="499.0" x2="653.6" y2="499.0" stroke="#222" stroke-width="1.5"/>
<text x="647.6" y="502.0" font-size="8.4" text-anchor="end" font-weight="bold" fill="#111" stroke="#111" stroke-width="0.3" >2</text>
<line x1="562.4" y1="593.0" x2="703.9" y2="531.2" stroke="#909090" stroke-width="1.35"/>
<text x="637.4" y="484.6" font-size="9.4" text-anchor="middle" font-weight="bold" fill="#111" stroke="#111" stroke-width="0.3" >Waddell breast</text>
<text x="0" y="0" font-size="9.4" text-anchor="middle" font-weight="bold" fill="#111" stroke="#111" stroke-width="0.3" transform="translate(530.8,555.5) rotate(-90)">VEGFR2</text>
<text x="0" y="0" font-size="9.4" text-anchor="middle" font-weight="bold" fill="#111" stroke="#111" stroke-width="0.3" transform="translate(542.8,555.5) rotate(-90)">log<tspan font-size="6.8" dy="2.1">2</tspan><tspan dy="-2.1"> median-centered ratio</tspan></text>
<text x="637.4" y="630.4" font-size="9.4" text-anchor="middle" font-weight="bold" fill="#111" stroke="#111" stroke-width="0.3" >FAK</text>
<text x="637.4" y="641.4" font-size="9.4" text-anchor="middle" font-weight="bold" fill="#111" stroke="#111" stroke-width="0.3" >log<tspan font-size="6.8" dy="2.1">2</tspan><tspan dy="-2.1"> median-centered ratio</tspan></text>
<text x="556.2" y="508.9" font-size="9.3" text-anchor="start" font-weight="normal" fill="#2b2b2b" stroke="#2b2b2b" stroke-width="0.3" >R=0.76</text>
<text x="556.2" y="518.9" font-size="9.3" text-anchor="start" font-weight="normal" fill="#2b2b2b" stroke="#2b2b2b" stroke-width="0.3" >p&lt;0.01</text>
<circle cx="562.4" cy="574.9" r="1.75"/>
<circle cx="575.6" cy="563.0" r="1.75"/>
<circle cx="583.7" cy="578.6" r="1.75"/>
<circle cx="582.7" cy="594.6" r="1.75"/>
<circle cx="593.7" cy="585.2" r="1.75"/>
<circle cx="599.3" cy="566.5" r="1.75"/>
<circle cx="604.0" cy="586.4" r="1.75"/>
<circle cx="629.6" cy="595.5" r="1.75"/>
<circle cx="641.1" cy="577.4" r="1.75"/>
<circle cx="644.6" cy="557.1" r="1.75"/>
<circle cx="655.2" cy="571.8" r="1.75"/>
<circle cx="655.5" cy="549.3" r="1.75"/>
<circle cx="661.7" cy="539.3" r="1.75"/>
<circle cx="663.0" cy="561.5" r="1.75"/>
<circle cx="679.5" cy="525.0" r="1.75"/>
<circle cx="682.0" cy="525.9" r="1.75"/>
<circle cx="680.5" cy="554.0" r="1.75"/>
<circle cx="686.7" cy="556.2" r="1.75"/>
<circle cx="687.3" cy="511.8" r="1.75"/>
<circle cx="690.5" cy="547.7" r="1.75"/>
<circle cx="694.5" cy="513.4" r="1.75"/>
<circle cx="703.6" cy="522.4" r="1.75"/>
<text x="0" y="0" font-size="24" font-weight="normal" fill="#1a1a1a" stroke="#1a1a1a" stroke-width="0.35" transform="translate(5.3,29.2) scale(0.93,1.07)">(A)</text>
<text x="0" y="0" font-size="24" font-weight="normal" fill="#1a1a1a" stroke="#1a1a1a" stroke-width="0.35" transform="translate(5.3,243.8) scale(0.93,1.07)">(B)</text>
<text x="0" y="0" font-size="24" font-weight="normal" fill="#1a1a1a" stroke="#1a1a1a" stroke-width="0.35" transform="translate(5.3,459.4) scale(0.93,1.07)">(C)</text>
</g>
</svg></body></html>
